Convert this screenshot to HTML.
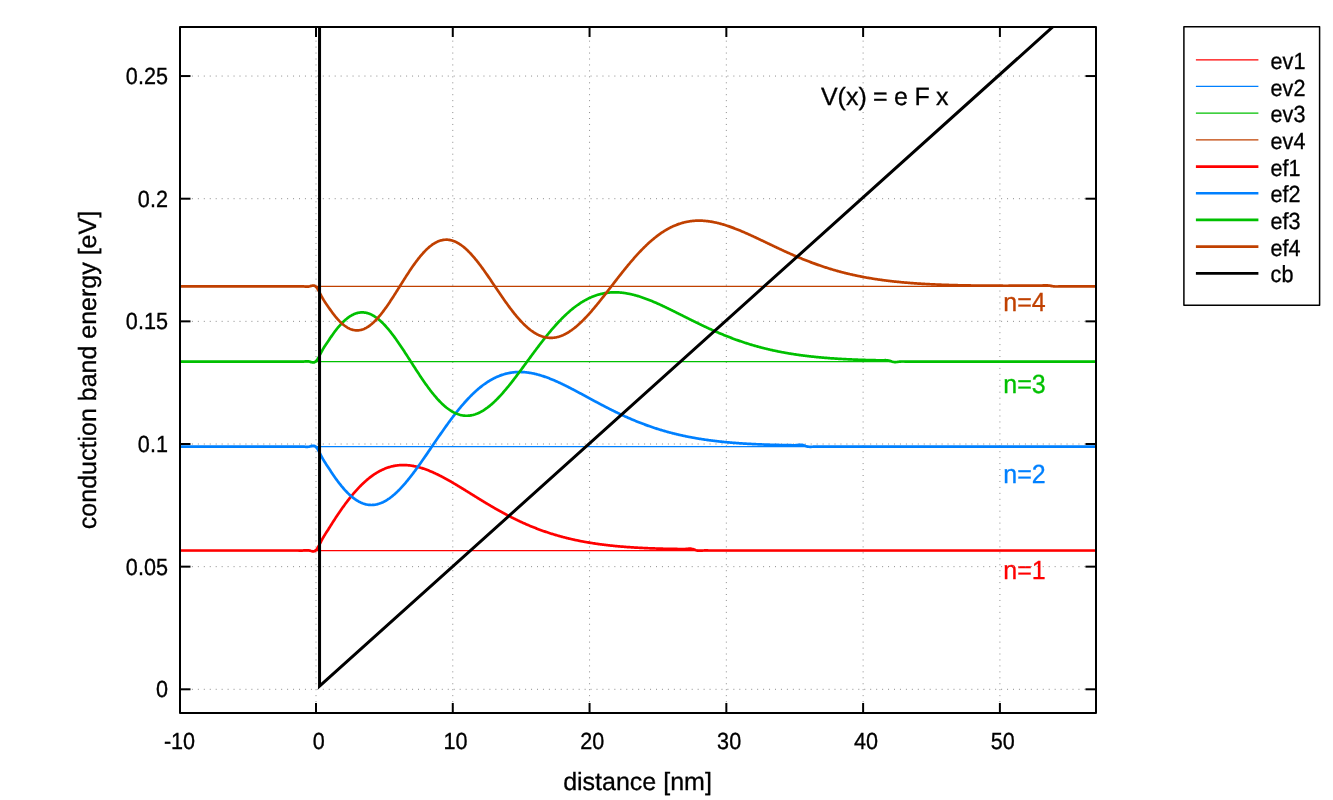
<!DOCTYPE html>
<html><head><meta charset="utf-8"><style>
html,body{margin:0;padding:0;background:#fff;}
svg{display:block;}
text{font-family:"Liberation Sans",sans-serif;text-rendering:geometricPrecision;stroke:currentColor;stroke-width:0.3px;}
svg{will-change:transform;}
</style></head><body>
<svg width="1333" height="800" viewBox="0 0 1333 800">
<defs><clipPath id="pc"><rect x="180" y="27" width="916" height="686"/></clipPath></defs>
<rect width="1333" height="800" fill="#fff"/>
<text transform="translate(1003.35,301.75) scale(1,1.05)" y="8.75" font-size="25.0" text-anchor="start" fill="#c04000" color="#c04000" >n=4</text>
<text transform="translate(1003.35,384.05) scale(1,1.05)" y="8.75" font-size="25.0" text-anchor="start" fill="#00c000" color="#00c000" >n=3</text>
<text transform="translate(1003.35,473.55) scale(1,1.05)" y="8.75" font-size="25.0" text-anchor="start" fill="#0080ff" color="#0080ff" >n=2</text>
<text transform="translate(1003.35,569.35) scale(1,1.05)" y="8.75" font-size="25.0" text-anchor="start" fill="#ff0000" color="#ff0000" >n=1</text>
<g stroke="#8c8c8c" stroke-width="1" stroke-dasharray="1 4.95" fill="none"><line x1="316.00" y1="714" x2="316.00" y2="27"/><line x1="452.78" y1="714" x2="452.78" y2="27"/><line x1="589.56" y1="714" x2="589.56" y2="27"/><line x1="726.34" y1="714" x2="726.34" y2="27"/><line x1="863.12" y1="714" x2="863.12" y2="27"/><line x1="999.90" y1="714" x2="999.90" y2="27"/><line x1="180" y1="689.30" x2="1096" y2="689.30"/><line x1="180" y1="566.65" x2="1096" y2="566.65"/><line x1="180" y1="444.00" x2="1096" y2="444.00"/><line x1="180" y1="321.35" x2="1096" y2="321.35"/><line x1="180" y1="198.70" x2="1096" y2="198.70"/><line x1="180" y1="76.05" x2="1096" y2="76.05"/></g>
<g stroke="#000" stroke-width="2" fill="none"><line x1="316.00" y1="713" x2="316.00" y2="703"/><line x1="316.00" y1="27" x2="316.00" y2="37"/><line x1="452.78" y1="713" x2="452.78" y2="703"/><line x1="452.78" y1="27" x2="452.78" y2="37"/><line x1="589.56" y1="713" x2="589.56" y2="703"/><line x1="589.56" y1="27" x2="589.56" y2="37"/><line x1="726.34" y1="713" x2="726.34" y2="703"/><line x1="726.34" y1="27" x2="726.34" y2="37"/><line x1="863.12" y1="713" x2="863.12" y2="703"/><line x1="863.12" y1="27" x2="863.12" y2="37"/><line x1="999.90" y1="713" x2="999.90" y2="703"/><line x1="999.90" y1="27" x2="999.90" y2="37"/><line x1="180" y1="689.30" x2="190.5" y2="689.30"/><line x1="1096" y1="689.30" x2="1085.5" y2="689.30"/><line x1="180" y1="566.65" x2="190.5" y2="566.65"/><line x1="1096" y1="566.65" x2="1085.5" y2="566.65"/><line x1="180" y1="444.00" x2="190.5" y2="444.00"/><line x1="1096" y1="444.00" x2="1085.5" y2="444.00"/><line x1="180" y1="321.35" x2="190.5" y2="321.35"/><line x1="1096" y1="321.35" x2="1085.5" y2="321.35"/><line x1="180" y1="198.70" x2="190.5" y2="198.70"/><line x1="1096" y1="198.70" x2="1085.5" y2="198.70"/><line x1="180" y1="76.05" x2="190.5" y2="76.05"/><line x1="1096" y1="76.05" x2="1085.5" y2="76.05"/></g>
<text transform="translate(167.90,689.04) scale(1,1.08)" y="7.56" font-size="21.6" text-anchor="end" fill="#000" color="#000" >0</text><text transform="translate(167.90,566.39) scale(1,1.08)" y="7.56" font-size="21.6" text-anchor="end" fill="#000" color="#000" >0.05</text><text transform="translate(167.90,443.74) scale(1,1.08)" y="7.56" font-size="21.6" text-anchor="end" fill="#000" color="#000" >0.1</text><text transform="translate(167.90,321.09) scale(1,1.08)" y="7.56" font-size="21.6" text-anchor="end" fill="#000" color="#000" >0.15</text><text transform="translate(167.90,198.44) scale(1,1.08)" y="7.56" font-size="21.6" text-anchor="end" fill="#000" color="#000" >0.2</text><text transform="translate(167.90,75.79) scale(1,1.08)" y="7.56" font-size="21.6" text-anchor="end" fill="#000" color="#000" >0.25</text><text transform="translate(179.52,740.34) scale(1,1.08)" y="7.56" font-size="21.6" text-anchor="middle" fill="#000" color="#000" >-10</text><text transform="translate(318.80,740.34) scale(1,1.08)" y="7.56" font-size="21.6" text-anchor="middle" fill="#000" color="#000" >0</text><text transform="translate(455.58,740.34) scale(1,1.08)" y="7.56" font-size="21.6" text-anchor="middle" fill="#000" color="#000" >10</text><text transform="translate(592.36,740.34) scale(1,1.08)" y="7.56" font-size="21.6" text-anchor="middle" fill="#000" color="#000" >20</text><text transform="translate(729.14,740.34) scale(1,1.08)" y="7.56" font-size="21.6" text-anchor="middle" fill="#000" color="#000" >30</text><text transform="translate(865.92,740.34) scale(1,1.08)" y="7.56" font-size="21.6" text-anchor="middle" fill="#000" color="#000" >40</text><text transform="translate(1002.70,740.34) scale(1,1.08)" y="7.56" font-size="21.6" text-anchor="middle" fill="#000" color="#000" >50</text>
<line x1="180" y1="550.50" x2="1096" y2="550.50" stroke="#ff0000" stroke-width="1.25"/><line x1="180" y1="446.62" x2="1096" y2="446.62" stroke="#0080ff" stroke-width="1.25"/><line x1="180" y1="361.58" x2="1096" y2="361.58" stroke="#00c000" stroke-width="1.25"/><line x1="180" y1="286.41" x2="1096" y2="286.41" stroke="#c04000" stroke-width="1.25"/>
<g clip-path="url(#pc)"><path d="M179.22,550.50L179.90,550.50L180.59,550.50L181.27,550.50L181.96,550.50L182.64,550.50L183.32,550.50L184.01,550.50L184.69,550.50L185.38,550.50L186.06,550.50L186.74,550.50L187.43,550.50L188.11,550.50L188.79,550.50L189.48,550.50L190.16,550.50L190.85,550.50L191.53,550.50L192.21,550.50L192.90,550.50L193.58,550.50L194.27,550.50L194.95,550.50L195.63,550.50L196.32,550.50L197.00,550.50L197.69,550.50L198.37,550.50L199.05,550.50L199.74,550.50L200.42,550.50L201.10,550.50L201.79,550.50L202.47,550.50L203.16,550.50L203.84,550.50L204.52,550.50L205.21,550.50L205.89,550.50L206.58,550.50L207.26,550.50L207.94,550.50L208.63,550.50L209.31,550.50L210.00,550.50L210.68,550.50L211.36,550.50L212.05,550.50L212.73,550.50L213.42,550.50L214.10,550.50L214.78,550.50L215.47,550.50L216.15,550.50L216.83,550.50L217.52,550.50L218.20,550.50L218.89,550.50L219.57,550.50L220.25,550.50L220.94,550.50L221.62,550.50L222.31,550.50L222.99,550.50L223.67,550.50L224.36,550.50L225.04,550.50L225.73,550.50L226.41,550.50L227.09,550.50L227.78,550.50L228.46,550.50L229.14,550.50L229.83,550.50L230.51,550.50L231.20,550.50L231.88,550.50L232.56,550.50L233.25,550.50L233.93,550.50L234.62,550.50L235.30,550.50L235.98,550.50L236.67,550.50L237.35,550.50L238.04,550.50L238.72,550.50L239.40,550.50L240.09,550.50L240.77,550.50L241.45,550.50L242.14,550.50L242.82,550.50L243.51,550.50L244.19,550.50L244.87,550.50L245.56,550.50L246.24,550.50L246.93,550.50L247.61,550.50L248.29,550.50L248.98,550.50L249.66,550.50L250.35,550.50L251.03,550.50L251.71,550.50L252.40,550.50L253.08,550.50L253.77,550.50L254.45,550.50L255.13,550.50L255.82,550.50L256.50,550.50L257.18,550.50L257.87,550.50L258.55,550.50L259.24,550.50L259.92,550.50L260.60,550.50L261.29,550.50L261.97,550.50L262.66,550.50L263.34,550.50L264.02,550.50L264.71,550.50L265.39,550.50L266.08,550.50L266.76,550.50L267.44,550.50L268.13,550.50L268.81,550.50L269.49,550.50L270.18,550.50L270.86,550.50L271.55,550.50L272.23,550.50L272.91,550.50L273.60,550.50L274.28,550.50L274.97,550.50L275.65,550.50L276.33,550.50L277.02,550.50L277.70,550.50L278.39,550.50L279.07,550.50L279.75,550.50L280.44,550.50L281.12,550.50L281.81,550.50L282.49,550.50L283.17,550.50L283.86,550.50L284.54,550.50L285.22,550.50L285.91,550.50L286.59,550.50L287.28,550.50L287.96,550.50L288.64,550.50L289.33,550.50L290.01,550.50L290.70,550.50L291.38,550.50L292.06,550.49L292.75,550.49L293.43,550.49L294.12,550.48L294.80,550.48L295.48,550.48L296.17,550.49L296.85,550.50L297.53,550.51L298.22,550.52L298.90,550.54L299.59,550.55L300.27,550.56L300.95,550.56L301.64,550.56L302.32,550.54L303.01,550.52L303.69,550.47L304.37,550.42L305.06,550.36L305.74,550.31L306.43,550.28L307.11,550.26L307.79,550.28L308.48,550.34L309.16,550.44L309.84,550.60L310.53,550.80L311.21,551.01L311.90,551.20L312.58,551.33L313.26,551.38L313.95,551.31L314.63,551.10L315.32,550.71L316.00,550.12L316.68,549.32L317.37,548.35L318.05,547.24L318.74,546.02L319.42,544.73L320.10,543.39L320.79,542.03L321.47,540.70L322.16,539.41L322.84,538.18L323.52,537.00L324.21,535.86L324.89,534.75L325.57,533.66L326.26,532.60L326.94,531.54L327.63,530.48L328.31,529.41L328.99,528.33L329.68,527.25L330.36,526.16L331.05,525.07L331.73,523.98L332.41,522.89L333.10,521.80L333.78,520.73L334.47,519.66L335.15,518.61L335.83,517.56L336.52,516.52L337.20,515.50L337.88,514.48L338.57,513.47L339.25,512.47L339.94,511.48L340.62,510.49L341.30,509.51L341.99,508.54L342.67,507.58L343.36,506.62L344.04,505.68L344.72,504.74L345.41,503.81L346.09,502.89L346.78,501.98L347.46,501.08L348.14,500.19L348.83,499.31L349.51,498.44L350.20,497.58L350.88,496.73L351.56,495.89L352.25,495.07L352.93,494.25L353.61,493.44L354.30,492.64L354.98,491.86L355.67,491.08L356.35,490.32L357.03,489.56L357.72,488.82L358.40,488.09L359.09,487.37L359.77,486.66L360.45,485.96L361.14,485.28L361.82,484.60L362.51,483.94L363.19,483.29L363.87,482.65L364.56,482.02L365.24,481.40L365.92,480.80L366.61,480.20L367.29,479.62L367.98,479.05L368.66,478.49L369.34,477.94L370.03,477.41L370.71,476.88L371.40,476.37L372.08,475.87L372.76,475.38L373.45,474.91L374.13,474.44L374.82,473.99L375.50,473.55L376.18,473.12L376.87,472.70L377.55,472.30L378.23,471.90L378.92,471.52L379.60,471.15L380.29,470.79L380.97,470.44L381.65,470.10L382.34,469.78L383.02,469.46L383.71,469.16L384.39,468.87L385.07,468.59L385.76,468.32L386.44,468.06L387.13,467.81L387.81,467.58L388.49,467.35L389.18,467.14L389.86,466.94L390.55,466.74L391.23,466.56L391.91,466.39L392.60,466.23L393.28,466.08L393.96,465.94L394.65,465.81L395.33,465.70L396.02,465.59L396.70,465.49L397.38,465.40L398.07,465.32L398.75,465.26L399.44,465.20L400.12,465.15L400.80,465.11L401.49,465.08L402.17,465.06L402.86,465.05L403.54,465.05L404.22,465.06L404.91,465.07L405.59,465.10L406.27,465.13L406.96,465.18L407.64,465.23L408.33,465.29L409.01,465.36L409.69,465.44L410.38,465.52L411.06,465.62L411.75,465.72L412.43,465.83L413.11,465.95L413.80,466.08L414.48,466.21L415.17,466.35L415.85,466.50L416.53,466.66L417.22,466.82L417.90,466.99L418.59,467.17L419.27,467.35L419.95,467.54L420.64,467.74L421.32,467.95L422.00,468.16L422.69,468.38L423.37,468.60L424.06,468.83L424.74,469.07L425.42,469.31L426.11,469.56L426.79,469.81L427.48,470.07L428.16,470.34L428.84,470.61L429.53,470.89L430.21,471.17L430.90,471.45L431.58,471.75L432.26,472.04L432.95,472.34L433.63,472.65L434.31,472.96L435.00,473.28L435.68,473.60L436.37,473.92L437.05,474.25L437.73,474.58L438.42,474.92L439.10,475.26L439.79,475.60L440.47,475.95L441.15,476.30L441.84,476.66L442.52,477.02L443.21,477.38L443.89,477.74L444.57,478.11L445.26,478.48L445.94,478.86L446.62,479.24L447.31,479.62L447.99,480.00L448.68,480.38L449.36,480.77L450.04,481.16L450.73,481.55L451.41,481.95L452.10,482.35L452.78,482.74L453.46,483.14L454.15,483.55L454.83,483.95L455.52,484.36L456.20,484.77L456.88,485.18L457.57,485.59L458.25,486.00L458.94,486.41L459.62,486.83L460.30,487.24L460.99,487.66L461.67,488.08L462.35,488.50L463.04,488.92L463.72,489.34L464.41,489.76L465.09,490.18L465.77,490.60L466.46,491.03L467.14,491.45L467.83,491.87L468.51,492.30L469.19,492.72L469.88,493.14L470.56,493.57L471.25,493.99L471.93,494.42L472.61,494.84L473.30,495.27L473.98,495.69L474.66,496.12L475.35,496.54L476.03,496.96L476.72,497.38L477.40,497.81L478.08,498.23L478.77,498.65L479.45,499.07L480.14,499.49L480.82,499.91L481.50,500.33L482.19,500.74L482.87,501.16L483.56,501.58L484.24,501.99L484.92,502.41L485.61,502.82L486.29,503.23L486.98,503.64L487.66,504.05L488.34,504.46L489.03,504.86L489.71,505.27L490.39,505.67L491.08,506.07L491.76,506.48L492.45,506.88L493.13,507.27L493.81,507.67L494.50,508.07L495.18,508.46L495.87,508.85L496.55,509.24L497.23,509.63L497.92,510.02L498.60,510.40L499.29,510.78L499.97,511.17L500.65,511.55L501.34,511.92L502.02,512.30L502.70,512.67L503.39,513.05L504.07,513.42L504.76,513.78L505.44,514.15L506.12,514.51L506.81,514.88L507.49,515.24L508.18,515.60L508.86,515.95L509.54,516.31L510.23,516.66L510.91,517.01L511.60,517.36L512.28,517.70L512.96,518.04L513.65,518.39L514.33,518.73L515.01,519.06L515.70,519.40L516.38,519.73L517.07,520.06L517.75,520.39L518.43,520.71L519.12,521.04L519.80,521.36L520.49,521.68L521.17,521.99L521.85,522.31L522.54,522.62L523.22,522.93L523.91,523.24L524.59,523.54L525.27,523.85L525.96,524.15L526.64,524.44L527.33,524.74L528.01,525.03L528.69,525.33L529.38,525.62L530.06,525.90L530.74,526.19L531.43,526.47L532.11,526.75L532.80,527.03L533.48,527.30L534.16,527.57L534.85,527.84L535.53,528.11L536.22,528.38L536.90,528.64L537.58,528.90L538.27,529.16L538.95,529.42L539.64,529.67L540.32,529.93L541.00,530.18L541.69,530.42L542.37,530.67L543.05,530.91L543.74,531.15L544.42,531.39L545.11,531.63L545.79,531.86L546.47,532.10L547.16,532.33L547.84,532.55L548.53,532.78L549.21,533.00L549.89,533.22L550.58,533.44L551.26,533.66L551.95,533.87L552.63,534.09L553.31,534.30L554.00,534.50L554.68,534.71L555.37,534.91L556.05,535.12L556.73,535.32L557.42,535.51L558.10,535.71L558.78,535.90L559.47,536.09L560.15,536.28L560.84,536.47L561.52,536.66L562.20,536.84L562.89,537.02L563.57,537.20L564.26,537.38L564.94,537.55L565.62,537.73L566.31,537.90L566.99,538.07L567.68,538.24L568.36,538.40L569.04,538.57L569.73,538.73L570.41,538.89L571.09,539.05L571.78,539.21L572.46,539.36L573.15,539.51L573.83,539.66L574.51,539.81L575.20,539.96L575.88,540.11L576.57,540.25L577.25,540.40L577.93,540.54L578.62,540.68L579.30,540.81L579.99,540.95L580.67,541.08L581.35,541.22L582.04,541.35L582.72,541.48L583.40,541.60L584.09,541.73L584.77,541.85L585.46,541.98L586.14,542.10L586.82,542.22L587.51,542.34L588.19,542.45L588.88,542.57L589.56,542.68L590.24,542.80L590.93,542.91L591.61,543.02L592.30,543.13L592.98,543.23L593.66,543.34L594.35,543.44L595.03,543.54L595.72,543.64L596.40,543.74L597.08,543.84L597.77,543.94L598.45,544.04L599.13,544.13L599.82,544.22L600.50,544.32L601.19,544.41L601.87,544.50L602.55,544.58L603.24,544.67L603.92,544.76L604.61,544.84L605.29,544.92L605.97,545.01L606.66,545.09L607.34,545.17L608.03,545.25L608.71,545.32L609.39,545.40L610.08,545.48L610.76,545.55L611.44,545.62L612.13,545.69L612.81,545.77L613.50,545.84L614.18,545.90L614.86,545.97L615.55,546.04L616.23,546.10L616.92,546.17L617.60,546.23L618.28,546.30L618.97,546.36L619.65,546.42L620.34,546.48L621.02,546.54L621.70,546.60L622.39,546.65L623.07,546.71L623.76,546.76L624.44,546.82L625.12,546.87L625.81,546.93L626.49,546.98L627.17,547.03L627.86,547.08L628.54,547.13L629.23,547.18L629.91,547.22L630.59,547.27L631.28,547.32L631.96,547.36L632.65,547.41L633.33,547.45L634.01,547.49L634.70,547.54L635.38,547.58L636.07,547.62L636.75,547.66L637.43,547.70L638.12,547.74L638.80,547.77L639.48,547.81L640.17,547.85L640.85,547.88L641.54,547.92L642.22,547.95L642.90,547.99L643.59,548.02L644.27,548.05L644.96,548.09L645.64,548.12L646.32,548.15L647.01,548.18L647.69,548.21L648.38,548.24L649.06,548.26L649.74,548.29L650.43,548.32L651.11,548.35L651.79,548.37L652.48,548.40L653.16,548.42L653.85,548.45L654.53,548.47L655.21,548.49L655.90,548.52L656.58,548.54L657.27,548.56L657.95,548.58L658.63,548.60L659.32,548.62L660.00,548.64L660.69,548.66L661.37,548.68L662.05,548.70L662.74,548.72L663.42,548.73L664.11,548.75L664.79,548.77L665.47,548.78L666.16,548.80L666.84,548.81L667.52,548.83L668.21,548.85L668.89,548.86L669.58,548.88L670.26,548.89L670.94,548.90L671.63,548.91L672.31,548.92L673.00,548.93L673.68,548.93L674.36,548.94L675.05,548.94L675.73,548.95L676.42,548.96L677.10,548.97L677.78,548.98L678.47,549.00L679.15,549.02L679.83,549.05L680.52,549.08L681.20,549.10L681.89,549.12L682.57,549.13L683.25,549.13L683.94,549.12L684.62,549.08L685.31,549.03L685.99,548.95L686.67,548.87L687.36,548.79L688.04,548.72L688.73,548.66L689.41,548.63L690.09,548.64L690.78,548.69L691.46,548.80L692.15,548.96L692.83,549.15L693.51,549.37L694.20,549.60L694.88,549.84L695.56,550.07L696.25,550.27L696.93,550.44L697.62,550.57L698.30,550.65L698.98,550.69L699.67,550.70L700.35,550.68L701.04,550.65L701.72,550.61L702.40,550.56L703.09,550.52L703.77,550.48L704.46,550.46L705.14,550.45L705.82,550.45L706.51,550.45L707.19,550.46L707.87,550.47L708.56,550.48L709.24,550.50L709.93,550.51L710.61,550.51L711.29,550.51L711.98,550.51L712.66,550.51L713.35,550.51L714.03,550.51L714.71,550.50L715.40,550.50L716.08,550.50L716.77,550.50L717.45,550.50L718.13,550.50L718.82,550.50L719.50,550.50L720.18,550.50L720.87,550.50L721.55,550.50L722.24,550.50L722.92,550.50L723.60,550.50L724.29,550.50L724.97,550.50L725.66,550.50L726.34,550.50L727.02,550.50L727.71,550.50L728.39,550.50L729.08,550.50L729.76,550.50L730.44,550.50L731.13,550.50L731.81,550.50L732.50,550.50L733.18,550.50L733.86,550.50L734.55,550.50L735.23,550.50L735.91,550.50L736.60,550.50L737.28,550.50L737.97,550.50L738.65,550.50L739.33,550.50L740.02,550.50L740.70,550.50L741.39,550.50L742.07,550.50L742.75,550.50L743.44,550.50L744.12,550.50L744.81,550.50L745.49,550.50L746.17,550.50L746.86,550.50L747.54,550.50L748.22,550.50L748.91,550.50L749.59,550.50L750.28,550.50L750.96,550.50L751.64,550.50L752.33,550.50L753.01,550.50L753.70,550.50L754.38,550.50L755.06,550.50L755.75,550.50L756.43,550.50L757.12,550.50L757.80,550.50L758.48,550.50L759.17,550.50L759.85,550.50L760.54,550.50L761.22,550.50L761.90,550.50L762.59,550.50L763.27,550.50L763.95,550.50L764.64,550.50L765.32,550.50L766.01,550.50L766.69,550.50L767.37,550.50L768.06,550.50L768.74,550.50L769.43,550.50L770.11,550.50L770.79,550.50L771.48,550.50L772.16,550.50L772.85,550.50L773.53,550.50L774.21,550.50L774.90,550.50L775.58,550.50L776.26,550.50L776.95,550.50L777.63,550.50L778.32,550.50L779.00,550.50L779.68,550.50L780.37,550.50L781.05,550.50L781.74,550.50L782.42,550.50L783.10,550.50L783.79,550.50L784.47,550.50L785.16,550.50L785.84,550.50L786.52,550.50L787.21,550.50L787.89,550.50L788.57,550.50L789.26,550.50L789.94,550.50L790.63,550.50L791.31,550.50L791.99,550.50L792.68,550.50L793.36,550.50L794.05,550.50L794.73,550.50L795.41,550.50L796.10,550.50L796.78,550.50L797.47,550.50L798.15,550.50L798.83,550.50L799.52,550.50L800.20,550.50L800.89,550.50L801.57,550.50L802.25,550.50L802.94,550.50L803.62,550.50L804.30,550.50L804.99,550.50L805.67,550.50L806.36,550.50L807.04,550.50L807.72,550.50L808.41,550.50L809.09,550.50L809.78,550.50L810.46,550.50L811.14,550.50L811.83,550.50L812.51,550.50L813.20,550.50L813.88,550.50L814.56,550.50L815.25,550.50L815.93,550.50L816.61,550.50L817.30,550.50L817.98,550.50L818.67,550.50L819.35,550.50L820.03,550.50L820.72,550.50L821.40,550.50L822.09,550.50L822.77,550.50L823.45,550.50L824.14,550.50L824.82,550.50L825.51,550.50L826.19,550.50L826.87,550.50L827.56,550.50L828.24,550.50L828.93,550.50L829.61,550.50L830.29,550.50L830.98,550.50L831.66,550.50L832.34,550.50L833.03,550.50L833.71,550.50L834.40,550.50L835.08,550.50L835.76,550.50L836.45,550.50L837.13,550.50L837.82,550.50L838.50,550.50L839.18,550.50L839.87,550.50L840.55,550.50L841.24,550.50L841.92,550.50L842.60,550.50L843.29,550.50L843.97,550.50L844.65,550.50L845.34,550.50L846.02,550.50L846.71,550.50L847.39,550.50L848.07,550.50L848.76,550.50L849.44,550.50L850.13,550.50L850.81,550.50L851.49,550.50L852.18,550.50L852.86,550.50L853.55,550.50L854.23,550.50L854.91,550.50L855.60,550.50L856.28,550.50L856.96,550.50L857.65,550.50L858.33,550.50L859.02,550.50L859.70,550.50L860.38,550.50L861.07,550.50L861.75,550.50L862.44,550.50L863.12,550.50L863.80,550.50L864.49,550.50L865.17,550.50L865.86,550.50L866.54,550.50L867.22,550.50L867.91,550.50L868.59,550.50L869.28,550.50L869.96,550.50L870.64,550.50L871.33,550.50L872.01,550.50L872.69,550.50L873.38,550.50L874.06,550.50L874.75,550.50L875.43,550.50L876.11,550.50L876.80,550.50L877.48,550.50L878.17,550.50L878.85,550.50L879.53,550.50L880.22,550.50L880.90,550.50L881.59,550.50L882.27,550.50L882.95,550.50L883.64,550.50L884.32,550.50L885.00,550.50L885.69,550.50L886.37,550.50L887.06,550.50L887.74,550.50L888.42,550.50L889.11,550.50L889.79,550.50L890.48,550.50L891.16,550.50L891.84,550.50L892.53,550.50L893.21,550.50L893.90,550.50L894.58,550.50L895.26,550.50L895.95,550.50L896.63,550.50L897.32,550.50L898.00,550.50L898.68,550.50L899.37,550.50L900.05,550.50L900.73,550.50L901.42,550.50L902.10,550.50L902.79,550.50L903.47,550.50L904.15,550.50L904.84,550.50L905.52,550.50L906.21,550.50L906.89,550.50L907.57,550.50L908.26,550.50L908.94,550.50L909.63,550.50L910.31,550.50L910.99,550.50L911.68,550.50L912.36,550.50L913.04,550.50L913.73,550.50L914.41,550.50L915.10,550.50L915.78,550.50L916.46,550.50L917.15,550.50L917.83,550.50L918.52,550.50L919.20,550.50L919.88,550.50L920.57,550.50L921.25,550.50L921.94,550.50L922.62,550.50L923.30,550.50L923.99,550.50L924.67,550.50L925.35,550.50L926.04,550.50L926.72,550.50L927.41,550.50L928.09,550.50L928.77,550.50L929.46,550.50L930.14,550.50L930.83,550.50L931.51,550.50L932.19,550.50L932.88,550.50L933.56,550.50L934.25,550.50L934.93,550.50L935.61,550.50L936.30,550.50L936.98,550.50L937.67,550.50L938.35,550.50L939.03,550.50L939.72,550.50L940.40,550.50L941.08,550.50L941.77,550.50L942.45,550.50L943.14,550.50L943.82,550.50L944.50,550.50L945.19,550.50L945.87,550.50L946.56,550.50L947.24,550.50L947.92,550.50L948.61,550.50L949.29,550.50L949.98,550.50L950.66,550.50L951.34,550.50L952.03,550.50L952.71,550.50L953.39,550.50L954.08,550.50L954.76,550.50L955.45,550.50L956.13,550.50L956.81,550.50L957.50,550.50L958.18,550.50L958.87,550.50L959.55,550.50L960.23,550.50L960.92,550.50L961.60,550.50L962.29,550.50L962.97,550.50L963.65,550.50L964.34,550.50L965.02,550.50L965.71,550.50L966.39,550.50L967.07,550.50L967.76,550.50L968.44,550.50L969.12,550.50L969.81,550.50L970.49,550.50L971.18,550.50L971.86,550.50L972.54,550.50L973.23,550.50L973.91,550.50L974.60,550.50L975.28,550.50L975.96,550.50L976.65,550.50L977.33,550.50L978.02,550.50L978.70,550.50L979.38,550.50L980.07,550.50L980.75,550.50L981.43,550.50L982.12,550.50L982.80,550.50L983.49,550.50L984.17,550.50L984.85,550.50L985.54,550.50L986.22,550.50L986.91,550.50L987.59,550.50L988.27,550.50L988.96,550.50L989.64,550.50L990.33,550.50L991.01,550.50L991.69,550.50L992.38,550.50L993.06,550.50L993.74,550.50L994.43,550.50L995.11,550.50L995.80,550.50L996.48,550.50L997.16,550.50L997.85,550.50L998.53,550.50L999.22,550.50L999.90,550.50L1000.58,550.50L1001.27,550.50L1001.95,550.50L1002.64,550.50L1003.32,550.50L1004.00,550.50L1004.69,550.50L1005.37,550.50L1006.06,550.50L1006.74,550.50L1007.42,550.50L1008.11,550.50L1008.79,550.50L1009.47,550.50L1010.16,550.50L1010.84,550.50L1011.53,550.50L1012.21,550.50L1012.89,550.50L1013.58,550.50L1014.26,550.50L1014.95,550.50L1015.63,550.50L1016.31,550.50L1017.00,550.50L1017.68,550.50L1018.37,550.50L1019.05,550.50L1019.73,550.50L1020.42,550.50L1021.10,550.50L1021.78,550.50L1022.47,550.50L1023.15,550.50L1023.84,550.50L1024.52,550.50L1025.20,550.50L1025.89,550.50L1026.57,550.50L1027.26,550.50L1027.94,550.50L1028.62,550.50L1029.31,550.50L1029.99,550.50L1030.68,550.50L1031.36,550.50L1032.04,550.50L1032.73,550.50L1033.41,550.50L1034.10,550.50L1034.78,550.50L1035.46,550.50L1036.15,550.50L1036.83,550.50L1037.51,550.50L1038.20,550.50L1038.88,550.50L1039.57,550.50L1040.25,550.50L1040.93,550.50L1041.62,550.50L1042.30,550.50L1042.99,550.50L1043.67,550.50L1044.35,550.50L1045.04,550.50L1045.72,550.50L1046.41,550.50L1047.09,550.50L1047.77,550.50L1048.46,550.50L1049.14,550.50L1049.82,550.50L1050.51,550.50L1051.19,550.50L1051.88,550.50L1052.56,550.50L1053.24,550.50L1053.93,550.50L1054.61,550.50L1055.30,550.50L1055.98,550.50L1056.66,550.50L1057.35,550.50L1058.03,550.50L1058.72,550.50L1059.40,550.50L1060.08,550.50L1060.77,550.50L1061.45,550.50L1062.13,550.50L1062.82,550.50L1063.50,550.50L1064.19,550.50L1064.87,550.50L1065.55,550.50L1066.24,550.50L1066.92,550.50L1067.61,550.50L1068.29,550.50L1068.97,550.50L1069.66,550.50L1070.34,550.50L1071.03,550.50L1071.71,550.50L1072.39,550.50L1073.08,550.50L1073.76,550.50L1074.45,550.50L1075.13,550.50L1075.81,550.50L1076.50,550.50L1077.18,550.50L1077.86,550.50L1078.55,550.50L1079.23,550.50L1079.92,550.50L1080.60,550.50L1081.28,550.50L1081.97,550.50L1082.65,550.50L1083.34,550.50L1084.02,550.50L1084.70,550.50L1085.39,550.50L1086.07,550.50L1086.76,550.50L1087.44,550.50L1088.12,550.50L1088.81,550.50L1089.49,550.50L1090.17,550.50L1090.86,550.50L1091.54,550.50L1092.23,550.50L1092.91,550.50L1093.59,550.50L1094.28,550.50L1094.96,550.50L1095.65,550.50" stroke="#ff0000" stroke-width="2.7" fill="none" stroke-linejoin="round"/><path d="M179.22,446.62L179.90,446.62L180.59,446.62L181.27,446.62L181.96,446.62L182.64,446.62L183.32,446.62L184.01,446.62L184.69,446.62L185.38,446.62L186.06,446.62L186.74,446.62L187.43,446.62L188.11,446.62L188.79,446.62L189.48,446.62L190.16,446.62L190.85,446.62L191.53,446.62L192.21,446.62L192.90,446.62L193.58,446.62L194.27,446.62L194.95,446.62L195.63,446.62L196.32,446.62L197.00,446.62L197.69,446.62L198.37,446.62L199.05,446.62L199.74,446.62L200.42,446.62L201.10,446.62L201.79,446.62L202.47,446.62L203.16,446.62L203.84,446.62L204.52,446.62L205.21,446.62L205.89,446.62L206.58,446.62L207.26,446.62L207.94,446.62L208.63,446.62L209.31,446.62L210.00,446.62L210.68,446.62L211.36,446.62L212.05,446.62L212.73,446.62L213.42,446.62L214.10,446.62L214.78,446.62L215.47,446.62L216.15,446.62L216.83,446.62L217.52,446.62L218.20,446.62L218.89,446.62L219.57,446.62L220.25,446.62L220.94,446.62L221.62,446.62L222.31,446.62L222.99,446.62L223.67,446.62L224.36,446.62L225.04,446.62L225.73,446.62L226.41,446.62L227.09,446.62L227.78,446.62L228.46,446.62L229.14,446.62L229.83,446.62L230.51,446.62L231.20,446.62L231.88,446.62L232.56,446.62L233.25,446.62L233.93,446.62L234.62,446.62L235.30,446.62L235.98,446.62L236.67,446.62L237.35,446.62L238.04,446.62L238.72,446.62L239.40,446.62L240.09,446.62L240.77,446.62L241.45,446.62L242.14,446.62L242.82,446.62L243.51,446.62L244.19,446.62L244.87,446.62L245.56,446.62L246.24,446.62L246.93,446.62L247.61,446.62L248.29,446.62L248.98,446.62L249.66,446.62L250.35,446.62L251.03,446.62L251.71,446.62L252.40,446.62L253.08,446.62L253.77,446.62L254.45,446.62L255.13,446.62L255.82,446.62L256.50,446.62L257.18,446.62L257.87,446.62L258.55,446.62L259.24,446.62L259.92,446.62L260.60,446.62L261.29,446.62L261.97,446.62L262.66,446.62L263.34,446.62L264.02,446.62L264.71,446.62L265.39,446.62L266.08,446.62L266.76,446.62L267.44,446.62L268.13,446.62L268.81,446.62L269.49,446.62L270.18,446.62L270.86,446.62L271.55,446.62L272.23,446.62L272.91,446.62L273.60,446.62L274.28,446.62L274.97,446.62L275.65,446.62L276.33,446.62L277.02,446.62L277.70,446.62L278.39,446.62L279.07,446.62L279.75,446.62L280.44,446.62L281.12,446.62L281.81,446.62L282.49,446.62L283.17,446.62L283.86,446.62L284.54,446.62L285.22,446.62L285.91,446.62L286.59,446.62L287.28,446.62L287.96,446.62L288.64,446.62L289.33,446.62L290.01,446.62L290.70,446.62L291.38,446.62L292.06,446.63L292.75,446.63L293.43,446.64L294.12,446.64L294.80,446.64L295.48,446.64L296.17,446.63L296.85,446.63L297.53,446.61L298.22,446.60L298.90,446.59L299.59,446.57L300.27,446.56L300.95,446.56L301.64,446.56L302.32,446.58L303.01,446.61L303.69,446.65L304.37,446.70L305.06,446.76L305.74,446.81L306.43,446.84L307.11,446.86L307.79,446.84L308.48,446.78L309.16,446.68L309.84,446.52L310.53,446.32L311.21,446.11L311.90,445.93L312.58,445.79L313.26,445.74L313.95,445.81L314.63,446.02L315.32,446.41L316.00,447.01L316.68,447.80L317.37,448.77L318.05,449.88L318.74,451.10L319.42,452.39L320.10,453.72L320.79,455.07L321.47,456.40L322.16,457.68L322.84,458.90L323.52,460.07L324.21,461.19L324.89,462.29L325.57,463.35L326.26,464.39L326.94,465.43L327.63,466.45L328.31,467.49L328.99,468.53L329.68,469.57L330.36,470.61L331.05,471.65L331.73,472.69L332.41,473.72L333.10,474.73L333.78,475.74L334.47,476.73L335.15,477.71L335.83,478.67L336.52,479.61L337.20,480.54L337.88,481.45L338.57,482.35L339.25,483.24L339.94,484.11L340.62,484.96L341.30,485.81L341.99,486.63L342.67,487.45L343.36,488.25L344.04,489.03L344.72,489.79L345.41,490.54L346.09,491.27L346.78,491.99L347.46,492.69L348.14,493.37L348.83,494.03L349.51,494.67L350.20,495.30L350.88,495.90L351.56,496.49L352.25,497.06L352.93,497.61L353.61,498.14L354.30,498.65L354.98,499.15L355.67,499.62L356.35,500.07L357.03,500.51L357.72,500.92L358.40,501.32L359.09,501.69L359.77,502.05L360.45,502.38L361.14,502.70L361.82,502.99L362.51,503.27L363.19,503.52L363.87,503.75L364.56,503.97L365.24,504.16L365.92,504.33L366.61,504.48L367.29,504.62L367.98,504.73L368.66,504.82L369.34,504.89L370.03,504.94L370.71,504.97L371.40,504.98L372.08,504.97L372.76,504.94L373.45,504.89L374.13,504.82L374.82,504.74L375.50,504.63L376.18,504.50L376.87,504.35L377.55,504.18L378.23,504.00L378.92,503.79L379.60,503.57L380.29,503.32L380.97,503.06L381.65,502.78L382.34,502.48L383.02,502.17L383.71,501.83L384.39,501.48L385.07,501.11L385.76,500.72L386.44,500.31L387.13,499.89L387.81,499.45L388.49,498.99L389.18,498.52L389.86,498.03L390.55,497.52L391.23,497.00L391.91,496.46L392.60,495.91L393.28,495.34L393.96,494.76L394.65,494.16L395.33,493.55L396.02,492.92L396.70,492.28L397.38,491.63L398.07,490.96L398.75,490.28L399.44,489.58L400.12,488.87L400.80,488.15L401.49,487.42L402.17,486.67L402.86,485.92L403.54,485.15L404.22,484.37L404.91,483.58L405.59,482.78L406.27,481.97L406.96,481.14L407.64,480.31L408.33,479.47L409.01,478.62L409.69,477.76L410.38,476.89L411.06,476.01L411.75,475.13L412.43,474.23L413.11,473.33L413.80,472.43L414.48,471.51L415.17,470.59L415.85,469.66L416.53,468.72L417.22,467.78L417.90,466.83L418.59,465.88L419.27,464.92L419.95,463.96L420.64,462.99L421.32,462.02L422.00,461.05L422.69,460.07L423.37,459.08L424.06,458.10L424.74,457.11L425.42,456.12L426.11,455.12L426.79,454.12L427.48,453.13L428.16,452.13L428.84,451.12L429.53,450.12L430.21,449.12L430.90,448.11L431.58,447.11L432.26,446.10L432.95,445.10L433.63,444.09L434.31,443.09L435.00,442.09L435.68,441.09L436.37,440.09L437.05,439.09L437.73,438.09L438.42,437.10L439.10,436.10L439.79,435.11L440.47,434.12L441.15,433.14L441.84,432.16L442.52,431.18L443.21,430.21L443.89,429.24L444.57,428.27L445.26,427.31L445.94,426.35L446.62,425.39L447.31,424.44L447.99,423.50L448.68,422.56L449.36,421.63L450.04,420.70L450.73,419.78L451.41,418.86L452.10,417.95L452.78,417.05L453.46,416.15L454.15,415.26L454.83,414.37L455.52,413.49L456.20,412.62L456.88,411.76L457.57,410.90L458.25,410.05L458.94,409.21L459.62,408.38L460.30,407.55L460.99,406.73L461.67,405.92L462.35,405.12L463.04,404.32L463.72,403.54L464.41,402.76L465.09,401.99L465.77,401.23L466.46,400.48L467.14,399.74L467.83,399.00L468.51,398.28L469.19,397.57L469.88,396.86L470.56,396.16L471.25,395.48L471.93,394.80L472.61,394.13L473.30,393.47L473.98,392.82L474.66,392.18L475.35,391.55L476.03,390.93L476.72,390.32L477.40,389.72L478.08,389.13L478.77,388.55L479.45,387.98L480.14,387.42L480.82,386.87L481.50,386.33L482.19,385.80L482.87,385.28L483.56,384.78L484.24,384.28L484.92,383.79L485.61,383.31L486.29,382.84L486.98,382.38L487.66,381.94L488.34,381.50L489.03,381.07L489.71,380.65L490.39,380.25L491.08,379.85L491.76,379.46L492.45,379.09L493.13,378.72L493.81,378.37L494.50,378.02L495.18,377.69L495.87,377.36L496.55,377.05L497.23,376.74L497.92,376.45L498.60,376.16L499.29,375.89L499.97,375.62L500.65,375.37L501.34,375.12L502.02,374.89L502.70,374.66L503.39,374.44L504.07,374.24L504.76,374.04L505.44,373.85L506.12,373.67L506.81,373.51L507.49,373.35L508.18,373.20L508.86,373.06L509.54,372.93L510.23,372.80L510.91,372.69L511.60,372.59L512.28,372.49L512.96,372.40L513.65,372.33L514.33,372.26L515.01,372.20L515.70,372.15L516.38,372.10L517.07,372.07L517.75,372.04L518.43,372.02L519.12,372.01L519.80,372.01L520.49,372.02L521.17,372.03L521.85,372.05L522.54,372.08L523.22,372.12L523.91,372.17L524.59,372.22L525.27,372.28L525.96,372.35L526.64,372.42L527.33,372.50L528.01,372.59L528.69,372.69L529.38,372.79L530.06,372.90L530.74,373.02L531.43,373.14L532.11,373.27L532.80,373.40L533.48,373.55L534.16,373.69L534.85,373.85L535.53,374.01L536.22,374.18L536.90,374.35L537.58,374.53L538.27,374.71L538.95,374.90L539.64,375.10L540.32,375.30L541.00,375.50L541.69,375.72L542.37,375.93L543.05,376.15L543.74,376.38L544.42,376.61L545.11,376.85L545.79,377.09L546.47,377.33L547.16,377.58L547.84,377.84L548.53,378.10L549.21,378.36L549.89,378.63L550.58,378.90L551.26,379.17L551.95,379.45L552.63,379.73L553.31,380.02L554.00,380.31L554.68,380.60L555.37,380.90L556.05,381.20L556.73,381.51L557.42,381.81L558.10,382.12L558.78,382.43L559.47,382.75L560.15,383.07L560.84,383.39L561.52,383.71L562.20,384.04L562.89,384.37L563.57,384.70L564.26,385.04L564.94,385.37L565.62,385.71L566.31,386.05L566.99,386.39L567.68,386.74L568.36,387.08L569.04,387.43L569.73,387.78L570.41,388.13L571.09,388.49L571.78,388.84L572.46,389.20L573.15,389.55L573.83,389.91L574.51,390.27L575.20,390.63L575.88,390.99L576.57,391.36L577.25,391.72L577.93,392.09L578.62,392.45L579.30,392.82L579.99,393.19L580.67,393.55L581.35,393.92L582.04,394.29L582.72,394.66L583.40,395.03L584.09,395.40L584.77,395.77L585.46,396.14L586.14,396.51L586.82,396.88L587.51,397.25L588.19,397.62L588.88,397.99L589.56,398.36L590.24,398.73L590.93,399.10L591.61,399.47L592.30,399.84L592.98,400.21L593.66,400.58L594.35,400.95L595.03,401.32L595.72,401.68L596.40,402.05L597.08,402.42L597.77,402.78L598.45,403.15L599.13,403.51L599.82,403.87L600.50,404.23L601.19,404.60L601.87,404.96L602.55,405.31L603.24,405.67L603.92,406.03L604.61,406.39L605.29,406.74L605.97,407.10L606.66,407.45L607.34,407.80L608.03,408.15L608.71,408.50L609.39,408.85L610.08,409.19L610.76,409.54L611.44,409.88L612.13,410.22L612.81,410.56L613.50,410.90L614.18,411.24L614.86,411.58L615.55,411.91L616.23,412.25L616.92,412.58L617.60,412.91L618.28,413.24L618.97,413.56L619.65,413.89L620.34,414.21L621.02,414.53L621.70,414.85L622.39,415.17L623.07,415.49L623.76,415.80L624.44,416.11L625.12,416.43L625.81,416.73L626.49,417.04L627.17,417.35L627.86,417.65L628.54,417.95L629.23,418.25L629.91,418.55L630.59,418.85L631.28,419.14L631.96,419.43L632.65,419.72L633.33,420.01L634.01,420.30L634.70,420.58L635.38,420.87L636.07,421.15L636.75,421.43L637.43,421.70L638.12,421.98L638.80,422.25L639.48,422.52L640.17,422.79L640.85,423.06L641.54,423.32L642.22,423.58L642.90,423.84L643.59,424.10L644.27,424.36L644.96,424.61L645.64,424.87L646.32,425.12L647.01,425.36L647.69,425.61L648.38,425.85L649.06,426.10L649.74,426.34L650.43,426.58L651.11,426.81L651.79,427.05L652.48,427.28L653.16,427.51L653.85,427.74L654.53,427.96L655.21,428.19L655.90,428.41L656.58,428.63L657.27,428.85L657.95,429.07L658.63,429.28L659.32,429.49L660.00,429.70L660.69,429.91L661.37,430.12L662.05,430.32L662.74,430.52L663.42,430.73L664.11,430.92L664.79,431.12L665.47,431.32L666.16,431.51L666.84,431.70L667.52,431.89L668.21,432.08L668.89,432.26L669.58,432.45L670.26,432.63L670.94,432.81L671.63,432.98L672.31,433.16L673.00,433.34L673.68,433.51L674.36,433.68L675.05,433.85L675.73,434.02L676.42,434.18L677.10,434.34L677.78,434.51L678.47,434.67L679.15,434.82L679.83,434.98L680.52,435.14L681.20,435.29L681.89,435.44L682.57,435.59L683.25,435.74L683.94,435.89L684.62,436.03L685.31,436.17L685.99,436.32L686.67,436.46L687.36,436.59L688.04,436.73L688.73,436.87L689.41,437.00L690.09,437.13L690.78,437.26L691.46,437.39L692.15,437.52L692.83,437.64L693.51,437.77L694.20,437.89L694.88,438.01L695.56,438.13L696.25,438.25L696.93,438.37L697.62,438.48L698.30,438.60L698.98,438.71L699.67,438.82L700.35,438.93L701.04,439.04L701.72,439.15L702.40,439.25L703.09,439.36L703.77,439.46L704.46,439.56L705.14,439.67L705.82,439.76L706.51,439.86L707.19,439.96L707.87,440.05L708.56,440.15L709.24,440.24L709.93,440.33L710.61,440.42L711.29,440.51L711.98,440.60L712.66,440.69L713.35,440.77L714.03,440.86L714.71,440.94L715.40,441.02L716.08,441.11L716.77,441.19L717.45,441.26L718.13,441.34L718.82,441.42L719.50,441.49L720.18,441.57L720.87,441.64L721.55,441.71L722.24,441.79L722.92,441.86L723.60,441.93L724.29,441.99L724.97,442.06L725.66,442.13L726.34,442.19L727.02,442.26L727.71,442.32L728.39,442.38L729.08,442.45L729.76,442.51L730.44,442.57L731.13,442.62L731.81,442.68L732.50,442.74L733.18,442.80L733.86,442.85L734.55,442.90L735.23,442.96L735.91,443.01L736.60,443.06L737.28,443.11L737.97,443.16L738.65,443.21L739.33,443.26L740.02,443.31L740.70,443.36L741.39,443.40L742.07,443.45L742.75,443.49L743.44,443.54L744.12,443.58L744.81,443.62L745.49,443.67L746.17,443.71L746.86,443.75L747.54,443.79L748.22,443.83L748.91,443.86L749.59,443.90L750.28,443.94L750.96,443.97L751.64,444.01L752.33,444.05L753.01,444.08L753.70,444.11L754.38,444.15L755.06,444.18L755.75,444.21L756.43,444.24L757.12,444.27L757.80,444.30L758.48,444.33L759.17,444.36L759.85,444.39L760.54,444.42L761.22,444.44L761.90,444.47L762.59,444.50L763.27,444.52L763.95,444.55L764.64,444.57L765.32,444.60L766.01,444.62L766.69,444.64L767.37,444.66L768.06,444.69L768.74,444.71L769.43,444.73L770.11,444.75L770.79,444.77L771.48,444.79L772.16,444.81L772.85,444.82L773.53,444.84L774.21,444.86L774.90,444.88L775.58,444.89L776.26,444.91L776.95,444.92L777.63,444.94L778.32,444.96L779.00,444.97L779.68,444.99L780.37,445.00L781.05,445.02L781.74,445.03L782.42,445.04L783.10,445.05L783.79,445.06L784.47,445.06L785.16,445.07L785.84,445.07L786.52,445.08L787.21,445.09L787.89,445.10L788.57,445.11L789.26,445.13L789.94,445.15L790.63,445.18L791.31,445.21L791.99,445.24L792.68,445.26L793.36,445.27L794.05,445.27L794.73,445.25L795.41,445.22L796.10,445.16L796.78,445.09L797.47,445.01L798.15,444.92L798.83,444.85L799.52,444.80L800.20,444.77L800.89,444.78L801.57,444.83L802.25,444.93L802.94,445.09L803.62,445.28L804.30,445.50L804.99,445.73L805.67,445.97L806.36,446.19L807.04,446.40L807.72,446.57L808.41,446.69L809.09,446.77L809.78,446.81L810.46,446.82L811.14,446.81L811.83,446.77L812.51,446.73L813.20,446.68L813.88,446.64L814.56,446.60L815.25,446.58L815.93,446.57L816.61,446.57L817.30,446.57L817.98,446.58L818.67,446.59L819.35,446.61L820.03,446.62L820.72,446.63L821.40,446.63L822.09,446.64L822.77,446.64L823.45,446.64L824.14,446.63L824.82,446.63L825.51,446.63L826.19,446.62L826.87,446.62L827.56,446.62L828.24,446.62L828.93,446.62L829.61,446.62L830.29,446.62L830.98,446.62L831.66,446.62L832.34,446.62L833.03,446.62L833.71,446.62L834.40,446.62L835.08,446.62L835.76,446.62L836.45,446.62L837.13,446.62L837.82,446.62L838.50,446.62L839.18,446.62L839.87,446.62L840.55,446.62L841.24,446.62L841.92,446.62L842.60,446.62L843.29,446.62L843.97,446.62L844.65,446.62L845.34,446.62L846.02,446.62L846.71,446.62L847.39,446.62L848.07,446.62L848.76,446.62L849.44,446.62L850.13,446.62L850.81,446.62L851.49,446.62L852.18,446.62L852.86,446.62L853.55,446.62L854.23,446.62L854.91,446.62L855.60,446.62L856.28,446.62L856.96,446.62L857.65,446.62L858.33,446.62L859.02,446.62L859.70,446.62L860.38,446.62L861.07,446.62L861.75,446.62L862.44,446.62L863.12,446.62L863.80,446.62L864.49,446.62L865.17,446.62L865.86,446.62L866.54,446.62L867.22,446.62L867.91,446.62L868.59,446.62L869.28,446.62L869.96,446.62L870.64,446.62L871.33,446.62L872.01,446.62L872.69,446.62L873.38,446.62L874.06,446.62L874.75,446.62L875.43,446.62L876.11,446.62L876.80,446.62L877.48,446.62L878.17,446.62L878.85,446.62L879.53,446.62L880.22,446.62L880.90,446.62L881.59,446.62L882.27,446.62L882.95,446.62L883.64,446.62L884.32,446.62L885.00,446.62L885.69,446.62L886.37,446.62L887.06,446.62L887.74,446.62L888.42,446.62L889.11,446.62L889.79,446.62L890.48,446.62L891.16,446.62L891.84,446.62L892.53,446.62L893.21,446.62L893.90,446.62L894.58,446.62L895.26,446.62L895.95,446.62L896.63,446.62L897.32,446.62L898.00,446.62L898.68,446.62L899.37,446.62L900.05,446.62L900.73,446.62L901.42,446.62L902.10,446.62L902.79,446.62L903.47,446.62L904.15,446.62L904.84,446.62L905.52,446.62L906.21,446.62L906.89,446.62L907.57,446.62L908.26,446.62L908.94,446.62L909.63,446.62L910.31,446.62L910.99,446.62L911.68,446.62L912.36,446.62L913.04,446.62L913.73,446.62L914.41,446.62L915.10,446.62L915.78,446.62L916.46,446.62L917.15,446.62L917.83,446.62L918.52,446.62L919.20,446.62L919.88,446.62L920.57,446.62L921.25,446.62L921.94,446.62L922.62,446.62L923.30,446.62L923.99,446.62L924.67,446.62L925.35,446.62L926.04,446.62L926.72,446.62L927.41,446.62L928.09,446.62L928.77,446.62L929.46,446.62L930.14,446.62L930.83,446.62L931.51,446.62L932.19,446.62L932.88,446.62L933.56,446.62L934.25,446.62L934.93,446.62L935.61,446.62L936.30,446.62L936.98,446.62L937.67,446.62L938.35,446.62L939.03,446.62L939.72,446.62L940.40,446.62L941.08,446.62L941.77,446.62L942.45,446.62L943.14,446.62L943.82,446.62L944.50,446.62L945.19,446.62L945.87,446.62L946.56,446.62L947.24,446.62L947.92,446.62L948.61,446.62L949.29,446.62L949.98,446.62L950.66,446.62L951.34,446.62L952.03,446.62L952.71,446.62L953.39,446.62L954.08,446.62L954.76,446.62L955.45,446.62L956.13,446.62L956.81,446.62L957.50,446.62L958.18,446.62L958.87,446.62L959.55,446.62L960.23,446.62L960.92,446.62L961.60,446.62L962.29,446.62L962.97,446.62L963.65,446.62L964.34,446.62L965.02,446.62L965.71,446.62L966.39,446.62L967.07,446.62L967.76,446.62L968.44,446.62L969.12,446.62L969.81,446.62L970.49,446.62L971.18,446.62L971.86,446.62L972.54,446.62L973.23,446.62L973.91,446.62L974.60,446.62L975.28,446.62L975.96,446.62L976.65,446.62L977.33,446.62L978.02,446.62L978.70,446.62L979.38,446.62L980.07,446.62L980.75,446.62L981.43,446.62L982.12,446.62L982.80,446.62L983.49,446.62L984.17,446.62L984.85,446.62L985.54,446.62L986.22,446.62L986.91,446.62L987.59,446.62L988.27,446.62L988.96,446.62L989.64,446.62L990.33,446.62L991.01,446.62L991.69,446.62L992.38,446.62L993.06,446.62L993.74,446.62L994.43,446.62L995.11,446.62L995.80,446.62L996.48,446.62L997.16,446.62L997.85,446.62L998.53,446.62L999.22,446.62L999.90,446.62L1000.58,446.62L1001.27,446.62L1001.95,446.62L1002.64,446.62L1003.32,446.62L1004.00,446.62L1004.69,446.62L1005.37,446.62L1006.06,446.62L1006.74,446.62L1007.42,446.62L1008.11,446.62L1008.79,446.62L1009.47,446.62L1010.16,446.62L1010.84,446.62L1011.53,446.62L1012.21,446.62L1012.89,446.62L1013.58,446.62L1014.26,446.62L1014.95,446.62L1015.63,446.62L1016.31,446.62L1017.00,446.62L1017.68,446.62L1018.37,446.62L1019.05,446.62L1019.73,446.62L1020.42,446.62L1021.10,446.62L1021.78,446.62L1022.47,446.62L1023.15,446.62L1023.84,446.62L1024.52,446.62L1025.20,446.62L1025.89,446.62L1026.57,446.62L1027.26,446.62L1027.94,446.62L1028.62,446.62L1029.31,446.62L1029.99,446.62L1030.68,446.62L1031.36,446.62L1032.04,446.62L1032.73,446.62L1033.41,446.62L1034.10,446.62L1034.78,446.62L1035.46,446.62L1036.15,446.62L1036.83,446.62L1037.51,446.62L1038.20,446.62L1038.88,446.62L1039.57,446.62L1040.25,446.62L1040.93,446.62L1041.62,446.62L1042.30,446.62L1042.99,446.62L1043.67,446.62L1044.35,446.62L1045.04,446.62L1045.72,446.62L1046.41,446.62L1047.09,446.62L1047.77,446.62L1048.46,446.62L1049.14,446.62L1049.82,446.62L1050.51,446.62L1051.19,446.62L1051.88,446.62L1052.56,446.62L1053.24,446.62L1053.93,446.62L1054.61,446.62L1055.30,446.62L1055.98,446.62L1056.66,446.62L1057.35,446.62L1058.03,446.62L1058.72,446.62L1059.40,446.62L1060.08,446.62L1060.77,446.62L1061.45,446.62L1062.13,446.62L1062.82,446.62L1063.50,446.62L1064.19,446.62L1064.87,446.62L1065.55,446.62L1066.24,446.62L1066.92,446.62L1067.61,446.62L1068.29,446.62L1068.97,446.62L1069.66,446.62L1070.34,446.62L1071.03,446.62L1071.71,446.62L1072.39,446.62L1073.08,446.62L1073.76,446.62L1074.45,446.62L1075.13,446.62L1075.81,446.62L1076.50,446.62L1077.18,446.62L1077.86,446.62L1078.55,446.62L1079.23,446.62L1079.92,446.62L1080.60,446.62L1081.28,446.62L1081.97,446.62L1082.65,446.62L1083.34,446.62L1084.02,446.62L1084.70,446.62L1085.39,446.62L1086.07,446.62L1086.76,446.62L1087.44,446.62L1088.12,446.62L1088.81,446.62L1089.49,446.62L1090.17,446.62L1090.86,446.62L1091.54,446.62L1092.23,446.62L1092.91,446.62L1093.59,446.62L1094.28,446.62L1094.96,446.62L1095.65,446.62" stroke="#0080ff" stroke-width="2.7" fill="none" stroke-linejoin="round"/><path d="M179.22,361.58L179.90,361.58L180.59,361.58L181.27,361.58L181.96,361.58L182.64,361.58L183.32,361.58L184.01,361.58L184.69,361.58L185.38,361.58L186.06,361.58L186.74,361.58L187.43,361.58L188.11,361.58L188.79,361.58L189.48,361.58L190.16,361.58L190.85,361.58L191.53,361.58L192.21,361.58L192.90,361.58L193.58,361.58L194.27,361.58L194.95,361.58L195.63,361.58L196.32,361.58L197.00,361.58L197.69,361.58L198.37,361.58L199.05,361.58L199.74,361.58L200.42,361.58L201.10,361.58L201.79,361.58L202.47,361.58L203.16,361.58L203.84,361.58L204.52,361.58L205.21,361.58L205.89,361.58L206.58,361.58L207.26,361.58L207.94,361.58L208.63,361.58L209.31,361.58L210.00,361.58L210.68,361.58L211.36,361.58L212.05,361.58L212.73,361.58L213.42,361.58L214.10,361.58L214.78,361.58L215.47,361.58L216.15,361.58L216.83,361.58L217.52,361.58L218.20,361.58L218.89,361.58L219.57,361.58L220.25,361.58L220.94,361.58L221.62,361.58L222.31,361.58L222.99,361.58L223.67,361.58L224.36,361.58L225.04,361.58L225.73,361.58L226.41,361.58L227.09,361.58L227.78,361.58L228.46,361.58L229.14,361.58L229.83,361.58L230.51,361.58L231.20,361.58L231.88,361.58L232.56,361.58L233.25,361.58L233.93,361.58L234.62,361.58L235.30,361.58L235.98,361.58L236.67,361.58L237.35,361.58L238.04,361.58L238.72,361.58L239.40,361.58L240.09,361.58L240.77,361.58L241.45,361.58L242.14,361.58L242.82,361.58L243.51,361.58L244.19,361.58L244.87,361.58L245.56,361.58L246.24,361.58L246.93,361.58L247.61,361.58L248.29,361.58L248.98,361.58L249.66,361.58L250.35,361.58L251.03,361.58L251.71,361.58L252.40,361.58L253.08,361.58L253.77,361.58L254.45,361.58L255.13,361.58L255.82,361.58L256.50,361.58L257.18,361.58L257.87,361.58L258.55,361.58L259.24,361.58L259.92,361.58L260.60,361.58L261.29,361.58L261.97,361.58L262.66,361.58L263.34,361.58L264.02,361.58L264.71,361.58L265.39,361.58L266.08,361.58L266.76,361.58L267.44,361.58L268.13,361.58L268.81,361.58L269.49,361.58L270.18,361.58L270.86,361.58L271.55,361.58L272.23,361.58L272.91,361.58L273.60,361.58L274.28,361.58L274.97,361.58L275.65,361.58L276.33,361.58L277.02,361.58L277.70,361.58L278.39,361.58L279.07,361.58L279.75,361.58L280.44,361.58L281.12,361.58L281.81,361.57L282.49,361.57L283.17,361.57L283.86,361.58L284.54,361.58L285.22,361.58L285.91,361.58L286.59,361.58L287.28,361.58L287.96,361.58L288.64,361.58L289.33,361.58L290.01,361.58L290.70,361.58L291.38,361.57L292.06,361.57L292.75,361.57L293.43,361.56L294.12,361.56L294.80,361.56L295.48,361.56L296.17,361.56L296.85,361.57L297.53,361.58L298.22,361.60L298.90,361.61L299.59,361.63L300.27,361.64L300.95,361.64L301.64,361.63L302.32,361.62L303.01,361.59L303.69,361.55L304.37,361.50L305.06,361.44L305.74,361.39L306.43,361.35L307.11,361.34L307.79,361.36L308.48,361.41L309.16,361.52L309.84,361.68L310.53,361.88L311.21,362.09L311.90,362.27L312.58,362.41L313.26,362.46L313.95,362.39L314.63,362.18L315.32,361.79L316.00,361.19L316.68,360.39L317.37,359.42L318.05,358.32L318.74,357.10L319.42,355.81L320.10,354.48L320.79,353.14L321.47,351.82L322.16,350.54L322.84,349.33L323.52,348.17L324.21,347.06L324.89,345.99L325.57,344.94L326.26,343.91L326.94,342.90L327.63,341.90L328.31,340.90L328.99,339.89L329.68,338.88L330.36,337.87L331.05,336.87L331.73,335.88L332.41,334.90L333.10,333.94L333.78,332.99L334.47,332.05L335.15,331.14L335.83,330.25L336.52,329.38L337.20,328.53L337.88,327.70L338.57,326.89L339.25,326.10L339.94,325.32L340.62,324.57L341.30,323.83L341.99,323.12L342.67,322.42L343.36,321.75L344.04,321.09L344.72,320.46L345.41,319.85L346.09,319.26L346.78,318.70L347.46,318.16L348.14,317.64L348.83,317.14L349.51,316.67L350.20,316.23L350.88,315.80L351.56,315.41L352.25,315.03L352.93,314.68L353.61,314.36L354.30,314.06L354.98,313.78L355.67,313.53L356.35,313.30L357.03,313.10L357.72,312.92L358.40,312.77L359.09,312.65L359.77,312.55L360.45,312.47L361.14,312.42L361.82,312.40L362.51,312.40L363.19,312.42L363.87,312.47L364.56,312.55L365.24,312.65L365.92,312.78L366.61,312.92L367.29,313.10L367.98,313.30L368.66,313.52L369.34,313.77L370.03,314.04L370.71,314.33L371.40,314.65L372.08,314.99L372.76,315.35L373.45,315.74L374.13,316.15L374.82,316.58L375.50,317.03L376.18,317.51L376.87,318.00L377.55,318.52L378.23,319.06L378.92,319.62L379.60,320.20L380.29,320.80L380.97,321.42L381.65,322.06L382.34,322.72L383.02,323.39L383.71,324.09L384.39,324.80L385.07,325.53L385.76,326.28L386.44,327.04L387.13,327.82L387.81,328.61L388.49,329.42L389.18,330.25L389.86,331.09L390.55,331.95L391.23,332.81L391.91,333.70L392.60,334.59L393.28,335.50L393.96,336.42L394.65,337.35L395.33,338.29L396.02,339.24L396.70,340.21L397.38,341.18L398.07,342.16L398.75,343.15L399.44,344.15L400.12,345.16L400.80,346.17L401.49,347.19L402.17,348.22L402.86,349.25L403.54,350.29L404.22,351.34L404.91,352.39L405.59,353.44L406.27,354.50L406.96,355.55L407.64,356.62L408.33,357.68L409.01,358.75L409.69,359.81L410.38,360.88L411.06,361.95L411.75,363.02L412.43,364.09L413.11,365.15L413.80,366.22L414.48,367.28L415.17,368.34L415.85,369.40L416.53,370.45L417.22,371.50L417.90,372.55L418.59,373.59L419.27,374.63L419.95,375.66L420.64,376.68L421.32,377.70L422.00,378.71L422.69,379.72L423.37,380.72L424.06,381.71L424.74,382.69L425.42,383.66L426.11,384.62L426.79,385.58L427.48,386.52L428.16,387.46L428.84,388.38L429.53,389.29L430.21,390.20L430.90,391.09L431.58,391.96L432.26,392.83L432.95,393.68L433.63,394.53L434.31,395.35L435.00,396.17L435.68,396.97L436.37,397.76L437.05,398.53L437.73,399.29L438.42,400.03L439.10,400.76L439.79,401.48L440.47,402.17L441.15,402.86L441.84,403.52L442.52,404.17L443.21,404.81L443.89,405.43L444.57,406.03L445.26,406.61L445.94,407.18L446.62,407.73L447.31,408.26L447.99,408.78L448.68,409.28L449.36,409.76L450.04,410.22L450.73,410.66L451.41,411.09L452.10,411.50L452.78,411.89L453.46,412.26L454.15,412.61L454.83,412.94L455.52,413.26L456.20,413.56L456.88,413.83L457.57,414.09L458.25,414.33L458.94,414.55L459.62,414.76L460.30,414.94L460.99,415.11L461.67,415.25L462.35,415.38L463.04,415.49L463.72,415.58L464.41,415.65L465.09,415.70L465.77,415.73L466.46,415.75L467.14,415.74L467.83,415.72L468.51,415.68L469.19,415.62L469.88,415.54L470.56,415.44L471.25,415.33L471.93,415.20L472.61,415.05L473.30,414.88L473.98,414.69L474.66,414.49L475.35,414.27L476.03,414.03L476.72,413.77L477.40,413.50L478.08,413.21L478.77,412.90L479.45,412.58L480.14,412.24L480.82,411.88L481.50,411.51L482.19,411.12L482.87,410.72L483.56,410.30L484.24,409.86L484.92,409.41L485.61,408.94L486.29,408.46L486.98,407.97L487.66,407.46L488.34,406.93L489.03,406.40L489.71,405.84L490.39,405.28L491.08,404.70L491.76,404.11L492.45,403.50L493.13,402.89L493.81,402.26L494.50,401.61L495.18,400.96L495.87,400.29L496.55,399.62L497.23,398.93L497.92,398.23L498.60,397.52L499.29,396.80L499.97,396.07L500.65,395.32L501.34,394.57L502.02,393.81L502.70,393.04L503.39,392.26L504.07,391.48L504.76,390.68L505.44,389.88L506.12,389.06L506.81,388.24L507.49,387.42L508.18,386.58L508.86,385.74L509.54,384.89L510.23,384.04L510.91,383.17L511.60,382.31L512.28,381.44L512.96,380.56L513.65,379.67L514.33,378.79L515.01,377.89L515.70,377.00L516.38,376.10L517.07,375.19L517.75,374.28L518.43,373.37L519.12,372.46L519.80,371.54L520.49,370.62L521.17,369.70L521.85,368.77L522.54,367.84L523.22,366.92L523.91,365.99L524.59,365.06L525.27,364.13L525.96,363.19L526.64,362.26L527.33,361.33L528.01,360.40L528.69,359.46L529.38,358.53L530.06,357.60L530.74,356.67L531.43,355.74L532.11,354.81L532.80,353.89L533.48,352.96L534.16,352.04L534.85,351.12L535.53,350.20L536.22,349.29L536.90,348.38L537.58,347.47L538.27,346.56L538.95,345.66L539.64,344.76L540.32,343.87L541.00,342.98L541.69,342.09L542.37,341.21L543.05,340.33L543.74,339.46L544.42,338.59L545.11,337.73L545.79,336.87L546.47,336.02L547.16,335.17L547.84,334.33L548.53,333.50L549.21,332.67L549.89,331.85L550.58,331.03L551.26,330.22L551.95,329.41L552.63,328.62L553.31,327.83L554.00,327.04L554.68,326.27L555.37,325.50L556.05,324.74L556.73,323.98L557.42,323.24L558.10,322.50L558.78,321.77L559.47,321.04L560.15,320.33L560.84,319.62L561.52,318.92L562.20,318.23L562.89,317.55L563.57,316.87L564.26,316.21L564.94,315.55L565.62,314.90L566.31,314.26L566.99,313.63L567.68,313.01L568.36,312.39L569.04,311.79L569.73,311.19L570.41,310.60L571.09,310.03L571.78,309.46L572.46,308.90L573.15,308.35L573.83,307.81L574.51,307.28L575.20,306.76L575.88,306.24L576.57,305.74L577.25,305.25L577.93,304.76L578.62,304.29L579.30,303.82L579.99,303.36L580.67,302.92L581.35,302.48L582.04,302.05L582.72,301.64L583.40,301.23L584.09,300.83L584.77,300.44L585.46,300.06L586.14,299.69L586.82,299.33L587.51,298.98L588.19,298.63L588.88,298.30L589.56,297.98L590.24,297.67L590.93,297.36L591.61,297.07L592.30,296.78L592.98,296.51L593.66,296.24L594.35,295.98L595.03,295.73L595.72,295.49L596.40,295.26L597.08,295.04L597.77,294.83L598.45,294.63L599.13,294.43L599.82,294.25L600.50,294.07L601.19,293.91L601.87,293.75L602.55,293.60L603.24,293.46L603.92,293.32L604.61,293.20L605.29,293.08L605.97,292.98L606.66,292.88L607.34,292.79L608.03,292.71L608.71,292.63L609.39,292.57L610.08,292.51L610.76,292.46L611.44,292.42L612.13,292.38L612.81,292.35L613.50,292.34L614.18,292.33L614.86,292.32L615.55,292.33L616.23,292.34L616.92,292.36L617.60,292.38L618.28,292.41L618.97,292.45L619.65,292.50L620.34,292.56L621.02,292.62L621.70,292.68L622.39,292.76L623.07,292.84L623.76,292.93L624.44,293.02L625.12,293.12L625.81,293.23L626.49,293.34L627.17,293.46L627.86,293.58L628.54,293.71L629.23,293.85L629.91,293.99L630.59,294.14L631.28,294.29L631.96,294.45L632.65,294.62L633.33,294.79L634.01,294.96L634.70,295.14L635.38,295.33L636.07,295.52L636.75,295.71L637.43,295.91L638.12,296.12L638.80,296.32L639.48,296.54L640.17,296.76L640.85,296.98L641.54,297.21L642.22,297.44L642.90,297.67L643.59,297.91L644.27,298.15L644.96,298.40L645.64,298.65L646.32,298.91L647.01,299.16L647.69,299.43L648.38,299.69L649.06,299.96L649.74,300.23L650.43,300.51L651.11,300.78L651.79,301.06L652.48,301.35L653.16,301.64L653.85,301.93L654.53,302.22L655.21,302.51L655.90,302.81L656.58,303.11L657.27,303.41L657.95,303.72L658.63,304.03L659.32,304.33L660.00,304.65L660.69,304.96L661.37,305.28L662.05,305.59L662.74,305.91L663.42,306.23L664.11,306.56L664.79,306.88L665.47,307.21L666.16,307.53L666.84,307.86L667.52,308.19L668.21,308.52L668.89,308.86L669.58,309.19L670.26,309.52L670.94,309.86L671.63,310.20L672.31,310.53L673.00,310.87L673.68,311.21L674.36,311.55L675.05,311.89L675.73,312.23L676.42,312.58L677.10,312.92L677.78,313.26L678.47,313.60L679.15,313.95L679.83,314.29L680.52,314.64L681.20,314.98L681.89,315.32L682.57,315.67L683.25,316.01L683.94,316.36L684.62,316.70L685.31,317.04L685.99,317.39L686.67,317.73L687.36,318.07L688.04,318.42L688.73,318.76L689.41,319.10L690.09,319.44L690.78,319.78L691.46,320.12L692.15,320.46L692.83,320.80L693.51,321.14L694.20,321.48L694.88,321.82L695.56,322.15L696.25,322.49L696.93,322.82L697.62,323.16L698.30,323.49L698.98,323.82L699.67,324.15L700.35,324.48L701.04,324.81L701.72,325.14L702.40,325.47L703.09,325.79L703.77,326.11L704.46,326.44L705.14,326.76L705.82,327.08L706.51,327.40L707.19,327.72L707.87,328.03L708.56,328.35L709.24,328.66L709.93,328.98L710.61,329.29L711.29,329.60L711.98,329.91L712.66,330.21L713.35,330.52L714.03,330.82L714.71,331.12L715.40,331.42L716.08,331.72L716.77,332.02L717.45,332.32L718.13,332.61L718.82,332.90L719.50,333.19L720.18,333.48L720.87,333.77L721.55,334.06L722.24,334.34L722.92,334.62L723.60,334.90L724.29,335.18L724.97,335.46L725.66,335.74L726.34,336.01L727.02,336.28L727.71,336.55L728.39,336.82L729.08,337.09L729.76,337.35L730.44,337.61L731.13,337.88L731.81,338.13L732.50,338.39L733.18,338.65L733.86,338.90L734.55,339.15L735.23,339.40L735.91,339.65L736.60,339.90L737.28,340.14L737.97,340.38L738.65,340.62L739.33,340.86L740.02,341.10L740.70,341.34L741.39,341.57L742.07,341.80L742.75,342.03L743.44,342.26L744.12,342.48L744.81,342.71L745.49,342.93L746.17,343.15L746.86,343.37L747.54,343.58L748.22,343.80L748.91,344.01L749.59,344.22L750.28,344.43L750.96,344.64L751.64,344.84L752.33,345.04L753.01,345.25L753.70,345.45L754.38,345.64L755.06,345.84L755.75,346.03L756.43,346.23L757.12,346.42L757.80,346.61L758.48,346.79L759.17,346.98L759.85,347.16L760.54,347.34L761.22,347.52L761.90,347.70L762.59,347.88L763.27,348.05L763.95,348.22L764.64,348.40L765.32,348.56L766.01,348.73L766.69,348.90L767.37,349.06L768.06,349.23L768.74,349.39L769.43,349.55L770.11,349.70L770.79,349.86L771.48,350.01L772.16,350.17L772.85,350.32L773.53,350.47L774.21,350.61L774.90,350.76L775.58,350.90L776.26,351.05L776.95,351.19L777.63,351.33L778.32,351.47L779.00,351.60L779.68,351.74L780.37,351.87L781.05,352.00L781.74,352.14L782.42,352.26L783.10,352.39L783.79,352.52L784.47,352.64L785.16,352.77L785.84,352.89L786.52,353.01L787.21,353.13L787.89,353.25L788.57,353.36L789.26,353.48L789.94,353.59L790.63,353.70L791.31,353.81L791.99,353.92L792.68,354.03L793.36,354.14L794.05,354.24L794.73,354.35L795.41,354.45L796.10,354.55L796.78,354.65L797.47,354.75L798.15,354.85L798.83,354.95L799.52,355.04L800.20,355.14L800.89,355.23L801.57,355.32L802.25,355.41L802.94,355.50L803.62,355.59L804.30,355.68L804.99,355.76L805.67,355.85L806.36,355.93L807.04,356.01L807.72,356.09L808.41,356.17L809.09,356.25L809.78,356.33L810.46,356.41L811.14,356.49L811.83,356.56L812.51,356.63L813.20,356.71L813.88,356.78L814.56,356.85L815.25,356.92L815.93,356.99L816.61,357.06L817.30,357.12L817.98,357.19L818.67,357.26L819.35,357.32L820.03,357.38L820.72,357.45L821.40,357.51L822.09,357.57L822.77,357.63L823.45,357.69L824.14,357.75L824.82,357.80L825.51,357.86L826.19,357.92L826.87,357.97L827.56,358.02L828.24,358.08L828.93,358.13L829.61,358.18L830.29,358.23L830.98,358.28L831.66,358.33L832.34,358.38L833.03,358.43L833.71,358.47L834.40,358.52L835.08,358.57L835.76,358.61L836.45,358.65L837.13,358.70L837.82,358.74L838.50,358.78L839.18,358.82L839.87,358.87L840.55,358.91L841.24,358.94L841.92,358.98L842.60,359.02L843.29,359.06L843.97,359.10L844.65,359.13L845.34,359.17L846.02,359.20L846.71,359.24L847.39,359.27L848.07,359.30L848.76,359.34L849.44,359.37L850.13,359.40L850.81,359.43L851.49,359.46L852.18,359.49L852.86,359.52L853.55,359.55L854.23,359.58L854.91,359.60L855.60,359.63L856.28,359.66L856.96,359.68L857.65,359.71L858.33,359.74L859.02,359.76L859.70,359.78L860.38,359.81L861.07,359.83L861.75,359.85L862.44,359.88L863.12,359.90L863.80,359.92L864.49,359.94L865.17,359.96L865.86,359.98L866.54,360.00L867.22,360.02L867.91,360.04L868.59,360.06L869.28,360.08L869.96,360.09L870.64,360.11L871.33,360.12L872.01,360.13L872.69,360.15L873.38,360.16L874.06,360.18L874.75,360.20L875.43,360.22L876.11,360.24L876.80,360.27L877.48,360.29L878.17,360.31L878.85,360.33L879.53,360.35L880.22,360.36L880.90,360.36L881.59,360.35L882.27,360.33L882.95,360.30L883.64,360.27L884.32,360.24L885.00,360.22L885.69,360.22L886.37,360.24L887.06,360.30L887.74,360.38L888.42,360.51L889.11,360.68L889.79,360.87L890.48,361.08L891.16,361.29L891.84,361.50L892.53,361.69L893.21,361.86L893.90,361.98L894.58,362.05L895.26,362.08L895.95,362.06L896.63,362.02L897.32,361.95L898.00,361.86L898.68,361.77L899.37,361.68L900.05,361.60L900.73,361.54L901.42,361.51L902.10,361.49L902.79,361.48L903.47,361.49L904.15,361.51L904.84,361.53L905.52,361.55L906.21,361.57L906.89,361.58L907.57,361.59L908.26,361.60L908.94,361.60L909.63,361.60L910.31,361.59L910.99,361.59L911.68,361.58L912.36,361.58L913.04,361.57L913.73,361.57L914.41,361.57L915.10,361.57L915.78,361.57L916.46,361.57L917.15,361.57L917.83,361.57L918.52,361.58L919.20,361.58L919.88,361.58L920.57,361.58L921.25,361.58L921.94,361.58L922.62,361.58L923.30,361.58L923.99,361.58L924.67,361.58L925.35,361.58L926.04,361.58L926.72,361.58L927.41,361.58L928.09,361.58L928.77,361.58L929.46,361.58L930.14,361.58L930.83,361.58L931.51,361.58L932.19,361.58L932.88,361.58L933.56,361.58L934.25,361.58L934.93,361.58L935.61,361.58L936.30,361.58L936.98,361.58L937.67,361.58L938.35,361.58L939.03,361.58L939.72,361.58L940.40,361.58L941.08,361.58L941.77,361.58L942.45,361.58L943.14,361.58L943.82,361.58L944.50,361.58L945.19,361.58L945.87,361.58L946.56,361.58L947.24,361.58L947.92,361.58L948.61,361.58L949.29,361.58L949.98,361.58L950.66,361.58L951.34,361.58L952.03,361.58L952.71,361.58L953.39,361.58L954.08,361.58L954.76,361.58L955.45,361.58L956.13,361.58L956.81,361.58L957.50,361.58L958.18,361.58L958.87,361.58L959.55,361.58L960.23,361.58L960.92,361.58L961.60,361.58L962.29,361.58L962.97,361.58L963.65,361.58L964.34,361.58L965.02,361.58L965.71,361.58L966.39,361.58L967.07,361.58L967.76,361.58L968.44,361.58L969.12,361.58L969.81,361.58L970.49,361.58L971.18,361.58L971.86,361.58L972.54,361.58L973.23,361.58L973.91,361.58L974.60,361.58L975.28,361.58L975.96,361.58L976.65,361.58L977.33,361.58L978.02,361.58L978.70,361.58L979.38,361.58L980.07,361.58L980.75,361.58L981.43,361.58L982.12,361.58L982.80,361.58L983.49,361.58L984.17,361.58L984.85,361.58L985.54,361.58L986.22,361.58L986.91,361.58L987.59,361.58L988.27,361.58L988.96,361.58L989.64,361.58L990.33,361.58L991.01,361.58L991.69,361.58L992.38,361.58L993.06,361.58L993.74,361.58L994.43,361.58L995.11,361.58L995.80,361.58L996.48,361.58L997.16,361.58L997.85,361.58L998.53,361.58L999.22,361.58L999.90,361.58L1000.58,361.58L1001.27,361.58L1001.95,361.58L1002.64,361.58L1003.32,361.58L1004.00,361.58L1004.69,361.58L1005.37,361.58L1006.06,361.58L1006.74,361.58L1007.42,361.58L1008.11,361.58L1008.79,361.58L1009.47,361.58L1010.16,361.58L1010.84,361.58L1011.53,361.58L1012.21,361.58L1012.89,361.58L1013.58,361.58L1014.26,361.58L1014.95,361.58L1015.63,361.58L1016.31,361.58L1017.00,361.58L1017.68,361.58L1018.37,361.58L1019.05,361.58L1019.73,361.58L1020.42,361.58L1021.10,361.58L1021.78,361.58L1022.47,361.58L1023.15,361.58L1023.84,361.58L1024.52,361.58L1025.20,361.58L1025.89,361.58L1026.57,361.58L1027.26,361.58L1027.94,361.58L1028.62,361.58L1029.31,361.58L1029.99,361.58L1030.68,361.58L1031.36,361.58L1032.04,361.58L1032.73,361.58L1033.41,361.58L1034.10,361.58L1034.78,361.58L1035.46,361.58L1036.15,361.58L1036.83,361.58L1037.51,361.58L1038.20,361.58L1038.88,361.58L1039.57,361.58L1040.25,361.58L1040.93,361.58L1041.62,361.58L1042.30,361.58L1042.99,361.58L1043.67,361.58L1044.35,361.58L1045.04,361.58L1045.72,361.58L1046.41,361.58L1047.09,361.58L1047.77,361.58L1048.46,361.58L1049.14,361.58L1049.82,361.58L1050.51,361.58L1051.19,361.58L1051.88,361.58L1052.56,361.58L1053.24,361.58L1053.93,361.58L1054.61,361.58L1055.30,361.58L1055.98,361.58L1056.66,361.58L1057.35,361.58L1058.03,361.58L1058.72,361.58L1059.40,361.58L1060.08,361.58L1060.77,361.58L1061.45,361.58L1062.13,361.58L1062.82,361.58L1063.50,361.58L1064.19,361.58L1064.87,361.58L1065.55,361.58L1066.24,361.58L1066.92,361.58L1067.61,361.58L1068.29,361.58L1068.97,361.58L1069.66,361.58L1070.34,361.58L1071.03,361.58L1071.71,361.58L1072.39,361.58L1073.08,361.58L1073.76,361.58L1074.45,361.58L1075.13,361.58L1075.81,361.58L1076.50,361.58L1077.18,361.58L1077.86,361.58L1078.55,361.58L1079.23,361.58L1079.92,361.58L1080.60,361.58L1081.28,361.58L1081.97,361.58L1082.65,361.58L1083.34,361.58L1084.02,361.58L1084.70,361.58L1085.39,361.58L1086.07,361.58L1086.76,361.58L1087.44,361.58L1088.12,361.58L1088.81,361.58L1089.49,361.58L1090.17,361.58L1090.86,361.58L1091.54,361.58L1092.23,361.58L1092.91,361.58L1093.59,361.58L1094.28,361.58L1094.96,361.58L1095.65,361.58" stroke="#00c000" stroke-width="2.7" fill="none" stroke-linejoin="round"/><path d="M179.22,286.41L179.90,286.41L180.59,286.41L181.27,286.41L181.96,286.41L182.64,286.41L183.32,286.41L184.01,286.41L184.69,286.41L185.38,286.41L186.06,286.41L186.74,286.41L187.43,286.41L188.11,286.41L188.79,286.41L189.48,286.41L190.16,286.41L190.85,286.41L191.53,286.41L192.21,286.41L192.90,286.41L193.58,286.41L194.27,286.41L194.95,286.41L195.63,286.41L196.32,286.41L197.00,286.41L197.69,286.41L198.37,286.41L199.05,286.41L199.74,286.41L200.42,286.41L201.10,286.41L201.79,286.41L202.47,286.41L203.16,286.41L203.84,286.41L204.52,286.41L205.21,286.41L205.89,286.41L206.58,286.41L207.26,286.41L207.94,286.41L208.63,286.41L209.31,286.41L210.00,286.41L210.68,286.41L211.36,286.41L212.05,286.41L212.73,286.41L213.42,286.41L214.10,286.41L214.78,286.41L215.47,286.41L216.15,286.41L216.83,286.41L217.52,286.41L218.20,286.41L218.89,286.41L219.57,286.41L220.25,286.41L220.94,286.41L221.62,286.41L222.31,286.41L222.99,286.41L223.67,286.41L224.36,286.41L225.04,286.41L225.73,286.41L226.41,286.41L227.09,286.41L227.78,286.41L228.46,286.41L229.14,286.41L229.83,286.41L230.51,286.41L231.20,286.41L231.88,286.41L232.56,286.41L233.25,286.41L233.93,286.41L234.62,286.41L235.30,286.41L235.98,286.41L236.67,286.41L237.35,286.41L238.04,286.41L238.72,286.41L239.40,286.41L240.09,286.41L240.77,286.41L241.45,286.41L242.14,286.41L242.82,286.41L243.51,286.41L244.19,286.41L244.87,286.41L245.56,286.41L246.24,286.41L246.93,286.41L247.61,286.41L248.29,286.41L248.98,286.41L249.66,286.41L250.35,286.41L251.03,286.41L251.71,286.41L252.40,286.41L253.08,286.41L253.77,286.41L254.45,286.41L255.13,286.41L255.82,286.41L256.50,286.41L257.18,286.41L257.87,286.41L258.55,286.41L259.24,286.41L259.92,286.41L260.60,286.41L261.29,286.41L261.97,286.41L262.66,286.41L263.34,286.41L264.02,286.41L264.71,286.41L265.39,286.41L266.08,286.41L266.76,286.41L267.44,286.41L268.13,286.41L268.81,286.41L269.49,286.41L270.18,286.41L270.86,286.41L271.55,286.41L272.23,286.41L272.91,286.41L273.60,286.41L274.28,286.41L274.97,286.41L275.65,286.41L276.33,286.41L277.02,286.41L277.70,286.41L278.39,286.41L279.07,286.41L279.75,286.41L280.44,286.41L281.12,286.41L281.81,286.41L282.49,286.41L283.17,286.41L283.86,286.41L284.54,286.41L285.22,286.41L285.91,286.41L286.59,286.41L287.28,286.41L287.96,286.41L288.64,286.41L289.33,286.41L290.01,286.41L290.70,286.41L291.38,286.41L292.06,286.42L292.75,286.42L293.43,286.43L294.12,286.43L294.80,286.43L295.48,286.43L296.17,286.42L296.85,286.42L297.53,286.40L298.22,286.39L298.90,286.38L299.59,286.36L300.27,286.35L300.95,286.35L301.64,286.35L302.32,286.37L303.01,286.40L303.69,286.44L304.37,286.49L305.06,286.55L305.74,286.60L306.43,286.63L307.11,286.65L307.79,286.63L308.48,286.57L309.16,286.47L309.84,286.31L310.53,286.11L311.21,285.90L311.90,285.72L312.58,285.58L313.26,285.53L313.95,285.60L314.63,285.81L315.32,286.20L316.00,286.80L316.68,287.59L317.37,288.56L318.05,289.67L318.74,290.88L319.42,292.17L320.10,293.50L320.79,294.84L321.47,296.16L322.16,297.42L322.84,298.62L323.52,299.77L324.21,300.88L324.89,301.94L325.57,302.97L326.26,303.98L326.94,304.97L327.63,305.95L328.31,306.93L328.99,307.91L329.68,308.89L330.36,309.86L331.05,310.83L331.73,311.78L332.41,312.72L333.10,313.64L333.78,314.54L334.47,315.42L335.15,316.27L335.83,317.10L336.52,317.91L337.20,318.70L337.88,319.46L338.57,320.19L339.25,320.91L339.94,321.60L340.62,322.26L341.30,322.91L341.99,323.53L342.67,324.12L343.36,324.69L344.04,325.24L344.72,325.76L345.41,326.25L346.09,326.72L346.78,327.16L347.46,327.57L348.14,327.95L348.83,328.31L349.51,328.63L350.20,328.93L350.88,329.20L351.56,329.45L352.25,329.66L352.93,329.85L353.61,330.01L354.30,330.14L354.98,330.24L355.67,330.31L356.35,330.35L357.03,330.36L357.72,330.35L358.40,330.31L359.09,330.24L359.77,330.14L360.45,330.01L361.14,329.85L361.82,329.67L362.51,329.45L363.19,329.21L363.87,328.95L364.56,328.65L365.24,328.33L365.92,327.98L366.61,327.60L367.29,327.20L367.98,326.77L368.66,326.32L369.34,325.84L370.03,325.34L370.71,324.81L371.40,324.26L372.08,323.68L372.76,323.08L373.45,322.46L374.13,321.82L374.82,321.15L375.50,320.46L376.18,319.75L376.87,319.02L377.55,318.27L378.23,317.50L378.92,316.71L379.60,315.90L380.29,315.07L380.97,314.23L381.65,313.37L382.34,312.49L383.02,311.59L383.71,310.68L384.39,309.76L385.07,308.82L385.76,307.87L386.44,306.90L387.13,305.93L387.81,304.94L388.49,303.94L389.18,302.93L389.86,301.90L390.55,300.87L391.23,299.84L391.91,298.79L392.60,297.73L393.28,296.67L393.96,295.61L394.65,294.53L395.33,293.46L396.02,292.37L396.70,291.29L397.38,290.20L398.07,289.11L398.75,288.02L399.44,286.93L400.12,285.83L400.80,284.74L401.49,283.65L402.17,282.56L402.86,281.47L403.54,280.38L404.22,279.30L404.91,278.23L405.59,277.15L406.27,276.09L406.96,275.02L407.64,273.97L408.33,272.92L409.01,271.88L409.69,270.85L410.38,269.83L411.06,268.81L411.75,267.81L412.43,266.82L413.11,265.83L413.80,264.86L414.48,263.90L415.17,262.96L415.85,262.03L416.53,261.11L417.22,260.20L417.90,259.31L418.59,258.44L419.27,257.58L419.95,256.73L420.64,255.91L421.32,255.09L422.00,254.30L422.69,253.53L423.37,252.77L424.06,252.03L424.74,251.31L425.42,250.61L426.11,249.92L426.79,249.26L427.48,248.62L428.16,248.00L428.84,247.40L429.53,246.82L430.21,246.26L430.90,245.72L431.58,245.21L432.26,244.71L432.95,244.24L433.63,243.79L434.31,243.37L435.00,242.96L435.68,242.58L436.37,242.22L437.05,241.89L437.73,241.58L438.42,241.29L439.10,241.03L439.79,240.79L440.47,240.57L441.15,240.38L441.84,240.21L442.52,240.07L443.21,239.94L443.89,239.85L444.57,239.77L445.26,239.73L445.94,239.70L446.62,239.70L447.31,239.72L447.99,239.77L448.68,239.84L449.36,239.93L450.04,240.05L450.73,240.19L451.41,240.35L452.10,240.54L452.78,240.75L453.46,240.98L454.15,241.24L454.83,241.51L455.52,241.81L456.20,242.14L456.88,242.48L457.57,242.85L458.25,243.23L458.94,243.64L459.62,244.07L460.30,244.52L460.99,244.99L461.67,245.48L462.35,245.99L463.04,246.52L463.72,247.07L464.41,247.64L465.09,248.23L465.77,248.83L466.46,249.46L467.14,250.10L467.83,250.75L468.51,251.43L469.19,252.12L469.88,252.83L470.56,253.55L471.25,254.29L471.93,255.05L472.61,255.82L473.30,256.60L473.98,257.40L474.66,258.21L475.35,259.03L476.03,259.87L476.72,260.72L477.40,261.58L478.08,262.45L478.77,263.34L479.45,264.23L480.14,265.14L480.82,266.05L481.50,266.97L482.19,267.91L482.87,268.85L483.56,269.79L484.24,270.75L484.92,271.71L485.61,272.68L486.29,273.66L486.98,274.64L487.66,275.63L488.34,276.62L489.03,277.61L489.71,278.61L490.39,279.62L491.08,280.62L491.76,281.63L492.45,282.64L493.13,283.65L493.81,284.67L494.50,285.68L495.18,286.70L495.87,287.71L496.55,288.73L497.23,289.74L497.92,290.75L498.60,291.76L499.29,292.77L499.97,293.77L500.65,294.77L501.34,295.77L502.02,296.77L502.70,297.75L503.39,298.74L504.07,299.72L504.76,300.69L505.44,301.66L506.12,302.62L506.81,303.58L507.49,304.53L508.18,305.47L508.86,306.40L509.54,307.33L510.23,308.24L510.91,309.15L511.60,310.05L512.28,310.93L512.96,311.81L513.65,312.68L514.33,313.54L515.01,314.38L515.70,315.22L516.38,316.04L517.07,316.86L517.75,317.66L518.43,318.44L519.12,319.22L519.80,319.98L520.49,320.73L521.17,321.46L521.85,322.18L522.54,322.89L523.22,323.59L523.91,324.27L524.59,324.93L525.27,325.58L525.96,326.21L526.64,326.83L527.33,327.44L528.01,328.02L528.69,328.60L529.38,329.15L530.06,329.69L530.74,330.22L531.43,330.72L532.11,331.22L532.80,331.69L533.48,332.15L534.16,332.59L534.85,333.01L535.53,333.42L536.22,333.80L536.90,334.18L537.58,334.53L538.27,334.87L538.95,335.18L539.64,335.48L540.32,335.77L541.00,336.03L541.69,336.28L542.37,336.51L543.05,336.72L543.74,336.92L544.42,337.09L545.11,337.25L545.79,337.39L546.47,337.51L547.16,337.62L547.84,337.70L548.53,337.77L549.21,337.82L549.89,337.85L550.58,337.87L551.26,337.87L551.95,337.84L552.63,337.81L553.31,337.75L554.00,337.68L554.68,337.59L555.37,337.48L556.05,337.36L556.73,337.21L557.42,337.05L558.10,336.88L558.78,336.69L559.47,336.48L560.15,336.25L560.84,336.01L561.52,335.75L562.20,335.48L562.89,335.19L563.57,334.88L564.26,334.56L564.94,334.22L565.62,333.87L566.31,333.50L566.99,333.12L567.68,332.72L568.36,332.31L569.04,331.88L569.73,331.44L570.41,330.98L571.09,330.51L571.78,330.03L572.46,329.53L573.15,329.02L573.83,328.50L574.51,327.96L575.20,327.41L575.88,326.85L576.57,326.28L577.25,325.69L577.93,325.10L578.62,324.49L579.30,323.87L579.99,323.23L580.67,322.59L581.35,321.94L582.04,321.27L582.72,320.60L583.40,319.92L584.09,319.22L584.77,318.52L585.46,317.81L586.14,317.08L586.82,316.35L587.51,315.61L588.19,314.87L588.88,314.11L589.56,313.35L590.24,312.58L590.93,311.80L591.61,311.01L592.30,310.22L592.98,309.42L593.66,308.61L594.35,307.80L595.03,306.99L595.72,306.16L596.40,305.33L597.08,304.50L597.77,303.66L598.45,302.82L599.13,301.97L599.82,301.12L600.50,300.26L601.19,299.41L601.87,298.54L602.55,297.68L603.24,296.81L603.92,295.94L604.61,295.06L605.29,294.19L605.97,293.31L606.66,292.43L607.34,291.55L608.03,290.66L608.71,289.78L609.39,288.90L610.08,288.01L610.76,287.12L611.44,286.24L612.13,285.35L612.81,284.47L613.50,283.58L614.18,282.70L614.86,281.81L615.55,280.93L616.23,280.05L616.92,279.17L617.60,278.29L618.28,277.42L618.97,276.54L619.65,275.67L620.34,274.80L621.02,273.94L621.70,273.07L622.39,272.21L623.07,271.36L623.76,270.50L624.44,269.65L625.12,268.81L625.81,267.96L626.49,267.13L627.17,266.29L627.86,265.46L628.54,264.64L629.23,263.82L629.91,263.00L630.59,262.19L631.28,261.39L631.96,260.59L632.65,259.80L633.33,259.01L634.01,258.23L634.70,257.45L635.38,256.68L636.07,255.92L636.75,255.16L637.43,254.41L638.12,253.66L638.80,252.93L639.48,252.19L640.17,251.47L640.85,250.75L641.54,250.04L642.22,249.34L642.90,248.65L643.59,247.96L644.27,247.28L644.96,246.61L645.64,245.94L646.32,245.28L647.01,244.63L647.69,243.99L648.38,243.36L649.06,242.73L649.74,242.12L650.43,241.51L651.11,240.91L651.79,240.32L652.48,239.73L653.16,239.16L653.85,238.59L654.53,238.03L655.21,237.48L655.90,236.94L656.58,236.41L657.27,235.89L657.95,235.38L658.63,234.87L659.32,234.37L660.00,233.89L660.69,233.41L661.37,232.94L662.05,232.48L662.74,232.02L663.42,231.58L664.11,231.15L664.79,230.72L665.47,230.31L666.16,229.90L666.84,229.50L667.52,229.11L668.21,228.74L668.89,228.36L669.58,228.00L670.26,227.65L670.94,227.31L671.63,226.97L672.31,226.65L673.00,226.33L673.68,226.02L674.36,225.73L675.05,225.44L675.73,225.16L676.42,224.88L677.10,224.62L677.78,224.37L678.47,224.12L679.15,223.89L679.83,223.66L680.52,223.44L681.20,223.23L681.89,223.03L682.57,222.83L683.25,222.65L683.94,222.47L684.62,222.30L685.31,222.14L685.99,221.99L686.67,221.85L687.36,221.72L688.04,221.59L688.73,221.47L689.41,221.36L690.09,221.26L690.78,221.16L691.46,221.08L692.15,221.00L692.83,220.93L693.51,220.86L694.20,220.81L694.88,220.76L695.56,220.72L696.25,220.69L696.93,220.66L697.62,220.64L698.30,220.63L698.98,220.63L699.67,220.63L700.35,220.64L701.04,220.66L701.72,220.68L702.40,220.72L703.09,220.75L703.77,220.80L704.46,220.85L705.14,220.91L705.82,220.97L706.51,221.04L707.19,221.12L707.87,221.20L708.56,221.29L709.24,221.38L709.93,221.48L710.61,221.59L711.29,221.70L711.98,221.82L712.66,221.94L713.35,222.07L714.03,222.21L714.71,222.35L715.40,222.49L716.08,222.64L716.77,222.80L717.45,222.96L718.13,223.13L718.82,223.30L719.50,223.47L720.18,223.65L720.87,223.84L721.55,224.03L722.24,224.22L722.92,224.42L723.60,224.62L724.29,224.83L724.97,225.04L725.66,225.25L726.34,225.47L727.02,225.70L727.71,225.92L728.39,226.15L729.08,226.39L729.76,226.63L730.44,226.87L731.13,227.11L731.81,227.36L732.50,227.61L733.18,227.87L733.86,228.13L734.55,228.39L735.23,228.65L735.91,228.92L736.60,229.19L737.28,229.46L737.97,229.73L738.65,230.01L739.33,230.29L740.02,230.57L740.70,230.86L741.39,231.15L742.07,231.44L742.75,231.73L743.44,232.02L744.12,232.32L744.81,232.62L745.49,232.91L746.17,233.22L746.86,233.52L747.54,233.82L748.22,234.13L748.91,234.44L749.59,234.75L750.28,235.06L750.96,235.37L751.64,235.68L752.33,236.00L753.01,236.32L753.70,236.63L754.38,236.95L755.06,237.27L755.75,237.59L756.43,237.91L757.12,238.23L757.80,238.55L758.48,238.88L759.17,239.20L759.85,239.52L760.54,239.85L761.22,240.17L761.90,240.50L762.59,240.83L763.27,241.15L763.95,241.48L764.64,241.80L765.32,242.13L766.01,242.46L766.69,242.79L767.37,243.11L768.06,243.44L768.74,243.77L769.43,244.09L770.11,244.42L770.79,244.75L771.48,245.07L772.16,245.40L772.85,245.72L773.53,246.05L774.21,246.37L774.90,246.70L775.58,247.02L776.26,247.34L776.95,247.66L777.63,247.99L778.32,248.31L779.00,248.63L779.68,248.95L780.37,249.27L781.05,249.58L781.74,249.90L782.42,250.22L783.10,250.53L783.79,250.85L784.47,251.16L785.16,251.47L785.84,251.78L786.52,252.10L787.21,252.40L787.89,252.71L788.57,253.02L789.26,253.33L789.94,253.63L790.63,253.93L791.31,254.24L791.99,254.54L792.68,254.84L793.36,255.14L794.05,255.43L794.73,255.73L795.41,256.02L796.10,256.32L796.78,256.61L797.47,256.90L798.15,257.19L798.83,257.47L799.52,257.76L800.20,258.04L800.89,258.33L801.57,258.61L802.25,258.89L802.94,259.17L803.62,259.44L804.30,259.72L804.99,259.99L805.67,260.26L806.36,260.53L807.04,260.80L807.72,261.07L808.41,261.33L809.09,261.60L809.78,261.86L810.46,262.12L811.14,262.38L811.83,262.63L812.51,262.89L813.20,263.14L813.88,263.39L814.56,263.64L815.25,263.89L815.93,264.14L816.61,264.38L817.30,264.63L817.98,264.87L818.67,265.11L819.35,265.34L820.03,265.58L820.72,265.81L821.40,266.05L822.09,266.28L822.77,266.51L823.45,266.73L824.14,266.96L824.82,267.18L825.51,267.40L826.19,267.62L826.87,267.84L827.56,268.06L828.24,268.27L828.93,268.49L829.61,268.70L830.29,268.91L830.98,269.11L831.66,269.32L832.34,269.52L833.03,269.73L833.71,269.93L834.40,270.12L835.08,270.32L835.76,270.52L836.45,270.71L837.13,270.90L837.82,271.09L838.50,271.28L839.18,271.47L839.87,271.65L840.55,271.83L841.24,272.02L841.92,272.20L842.60,272.37L843.29,272.55L843.97,272.72L844.65,272.90L845.34,273.07L846.02,273.24L846.71,273.41L847.39,273.57L848.07,273.74L848.76,273.90L849.44,274.06L850.13,274.22L850.81,274.38L851.49,274.53L852.18,274.69L852.86,274.84L853.55,274.99L854.23,275.14L854.91,275.29L855.60,275.44L856.28,275.58L856.96,275.73L857.65,275.87L858.33,276.01L859.02,276.15L859.70,276.29L860.38,276.42L861.07,276.56L861.75,276.69L862.44,276.82L863.12,276.95L863.80,277.08L864.49,277.21L865.17,277.34L865.86,277.46L866.54,277.58L867.22,277.71L867.91,277.83L868.59,277.95L869.28,278.06L869.96,278.18L870.64,278.29L871.33,278.41L872.01,278.52L872.69,278.63L873.38,278.74L874.06,278.85L874.75,278.96L875.43,279.06L876.11,279.17L876.80,279.27L877.48,279.37L878.17,279.47L878.85,279.57L879.53,279.67L880.22,279.77L880.90,279.86L881.59,279.96L882.27,280.05L882.95,280.14L883.64,280.23L884.32,280.32L885.00,280.41L885.69,280.50L886.37,280.59L887.06,280.67L887.74,280.76L888.42,280.84L889.11,280.92L889.79,281.00L890.48,281.08L891.16,281.16L891.84,281.24L892.53,281.32L893.21,281.39L893.90,281.47L894.58,281.54L895.26,281.61L895.95,281.69L896.63,281.76L897.32,281.83L898.00,281.90L898.68,281.96L899.37,282.03L900.05,282.10L900.73,282.16L901.42,282.23L902.10,282.29L902.79,282.35L903.47,282.42L904.15,282.48L904.84,282.54L905.52,282.60L906.21,282.65L906.89,282.71L907.57,282.77L908.26,282.82L908.94,282.88L909.63,282.93L910.31,282.99L910.99,283.04L911.68,283.09L912.36,283.14L913.04,283.19L913.73,283.24L914.41,283.29L915.10,283.34L915.78,283.39L916.46,283.44L917.15,283.48L917.83,283.53L918.52,283.57L919.20,283.62L919.88,283.66L920.57,283.70L921.25,283.74L921.94,283.79L922.62,283.83L923.30,283.87L923.99,283.91L924.67,283.95L925.35,283.98L926.04,284.02L926.72,284.06L927.41,284.10L928.09,284.13L928.77,284.17L929.46,284.20L930.14,284.24L930.83,284.27L931.51,284.30L932.19,284.34L932.88,284.37L933.56,284.40L934.25,284.43L934.93,284.46L935.61,284.49L936.30,284.52L936.98,284.55L937.67,284.58L938.35,284.61L939.03,284.63L939.72,284.66L940.40,284.69L941.08,284.71L941.77,284.74L942.45,284.76L943.14,284.79L943.82,284.81L944.50,284.84L945.19,284.86L945.87,284.88L946.56,284.91L947.24,284.93L947.92,284.95L948.61,284.97L949.29,284.99L949.98,285.01L950.66,285.03L951.34,285.05L952.03,285.07L952.71,285.09L953.39,285.11L954.08,285.13L954.76,285.15L955.45,285.16L956.13,285.18L956.81,285.20L957.50,285.22L958.18,285.23L958.87,285.25L959.55,285.26L960.23,285.28L960.92,285.29L961.60,285.31L962.29,285.32L962.97,285.34L963.65,285.35L964.34,285.36L965.02,285.38L965.71,285.39L966.39,285.40L967.07,285.41L967.76,285.43L968.44,285.44L969.12,285.45L969.81,285.46L970.49,285.47L971.18,285.48L971.86,285.49L972.54,285.50L973.23,285.51L973.91,285.52L974.60,285.53L975.28,285.54L975.96,285.55L976.65,285.56L977.33,285.57L978.02,285.57L978.70,285.58L979.38,285.59L980.07,285.60L980.75,285.60L981.43,285.61L982.12,285.62L982.80,285.62L983.49,285.63L984.17,285.64L984.85,285.64L985.54,285.65L986.22,285.65L986.91,285.66L987.59,285.66L988.27,285.67L988.96,285.67L989.64,285.68L990.33,285.68L991.01,285.69L991.69,285.69L992.38,285.69L993.06,285.70L993.74,285.70L994.43,285.70L995.11,285.71L995.80,285.71L996.48,285.71L997.16,285.71L997.85,285.71L998.53,285.72L999.22,285.72L999.90,285.72L1000.58,285.72L1001.27,285.72L1001.95,285.72L1002.64,285.72L1003.32,285.73L1004.00,285.73L1004.69,285.73L1005.37,285.73L1006.06,285.73L1006.74,285.73L1007.42,285.73L1008.11,285.73L1008.79,285.72L1009.47,285.72L1010.16,285.72L1010.84,285.72L1011.53,285.72L1012.21,285.72L1012.89,285.72L1013.58,285.72L1014.26,285.71L1014.95,285.71L1015.63,285.71L1016.31,285.71L1017.00,285.71L1017.68,285.70L1018.37,285.70L1019.05,285.70L1019.73,285.69L1020.42,285.69L1021.10,285.69L1021.78,285.68L1022.47,285.68L1023.15,285.68L1023.84,285.67L1024.52,285.67L1025.20,285.66L1025.89,285.66L1026.57,285.66L1027.26,285.65L1027.94,285.65L1028.62,285.64L1029.31,285.63L1029.99,285.63L1030.68,285.62L1031.36,285.61L1032.04,285.60L1032.73,285.60L1033.41,285.59L1034.10,285.58L1034.78,285.58L1035.46,285.58L1036.15,285.57L1036.83,285.57L1037.51,285.57L1038.20,285.57L1038.88,285.57L1039.57,285.57L1040.25,285.55L1040.93,285.54L1041.62,285.52L1042.30,285.49L1042.99,285.45L1043.67,285.42L1044.35,285.39L1045.04,285.36L1045.72,285.34L1046.41,285.34L1047.09,285.36L1047.77,285.40L1048.46,285.47L1049.14,285.56L1049.82,285.67L1050.51,285.80L1051.19,285.93L1051.88,286.05L1052.56,286.18L1053.24,286.29L1053.93,286.38L1054.61,286.45L1055.30,286.49L1055.98,286.52L1056.66,286.52L1057.35,286.51L1058.03,286.49L1058.72,286.47L1059.40,286.44L1060.08,286.42L1060.77,286.40L1061.45,286.39L1062.13,286.38L1062.82,286.38L1063.50,286.39L1064.19,286.39L1064.87,286.40L1065.55,286.40L1066.24,286.41L1066.92,286.41L1067.61,286.42L1068.29,286.42L1068.97,286.42L1069.66,286.42L1070.34,286.42L1071.03,286.42L1071.71,286.41L1072.39,286.41L1073.08,286.41L1073.76,286.41L1074.45,286.41L1075.13,286.41L1075.81,286.41L1076.50,286.41L1077.18,286.41L1077.86,286.41L1078.55,286.41L1079.23,286.41L1079.92,286.41L1080.60,286.41L1081.28,286.41L1081.97,286.41L1082.65,286.41L1083.34,286.41L1084.02,286.41L1084.70,286.41L1085.39,286.41L1086.07,286.41L1086.76,286.41L1087.44,286.41L1088.12,286.41L1088.81,286.41L1089.49,286.41L1090.17,286.41L1090.86,286.41L1091.54,286.41L1092.23,286.41L1092.91,286.41L1093.59,286.41L1094.28,286.41L1094.96,286.41L1095.65,286.41" stroke="#c04000" stroke-width="2.7" fill="none" stroke-linejoin="round"/><path d="M319.55,20.00L319.55,686.20L1100.00,-15.62" stroke="#000" stroke-width="3.0" fill="none" stroke-linejoin="miter"/></g>
<rect x="180" y="27" width="916" height="686" fill="none" stroke="#000" stroke-width="2" stroke-linejoin="round"/>
<text x="820.90" y="104.60" font-size="25.0" text-anchor="start" fill="#000" color="#000" word-spacing="-0.55">V(x) = e F x</text>
<text x="637.50" y="790.00" font-size="25.0" text-anchor="middle" fill="#000" color="#000" >distance [nm]</text>
<text transform="translate(95.6,370.0) rotate(-90)" font-size="25.0" text-anchor="middle">conduction band energy [eV]</text>
<rect x="1183.9" y="26.8" width="135.7" height="278.4" fill="none" stroke="#000" stroke-width="1.5" stroke-linejoin="round"/><line x1="1195.9" y1="59.80" x2="1258.4" y2="59.80" stroke="#ff0000" stroke-width="1.25"/><text transform="translate(1270.60,60.74) scale(1,1.08)" y="7.56" font-size="21.6" text-anchor="start" fill="#000" color="#000" >ev1</text><line x1="1195.9" y1="86.49" x2="1258.4" y2="86.49" stroke="#0080ff" stroke-width="1.25"/><text transform="translate(1270.60,87.43) scale(1,1.08)" y="7.56" font-size="21.6" text-anchor="start" fill="#000" color="#000" >ev2</text><line x1="1195.9" y1="113.18" x2="1258.4" y2="113.18" stroke="#00c000" stroke-width="1.25"/><text transform="translate(1270.60,114.12) scale(1,1.08)" y="7.56" font-size="21.6" text-anchor="start" fill="#000" color="#000" >ev3</text><line x1="1195.9" y1="139.87" x2="1258.4" y2="139.87" stroke="#c04000" stroke-width="1.25"/><text transform="translate(1270.60,140.81) scale(1,1.08)" y="7.56" font-size="21.6" text-anchor="start" fill="#000" color="#000" >ev4</text><line x1="1195.9" y1="166.56" x2="1258.4" y2="166.56" stroke="#ff0000" stroke-width="2.7"/><text transform="translate(1270.60,167.50) scale(1,1.08)" y="7.56" font-size="21.6" text-anchor="start" fill="#000" color="#000" >ef1</text><line x1="1195.9" y1="193.25" x2="1258.4" y2="193.25" stroke="#0080ff" stroke-width="2.7"/><text transform="translate(1270.60,194.19) scale(1,1.08)" y="7.56" font-size="21.6" text-anchor="start" fill="#000" color="#000" >ef2</text><line x1="1195.9" y1="219.94" x2="1258.4" y2="219.94" stroke="#00c000" stroke-width="2.7"/><text transform="translate(1270.60,220.88) scale(1,1.08)" y="7.56" font-size="21.6" text-anchor="start" fill="#000" color="#000" >ef3</text><line x1="1195.9" y1="246.63" x2="1258.4" y2="246.63" stroke="#c04000" stroke-width="2.7"/><text transform="translate(1270.60,247.57) scale(1,1.08)" y="7.56" font-size="21.6" text-anchor="start" fill="#000" color="#000" >ef4</text><line x1="1195.9" y1="273.32" x2="1258.4" y2="273.32" stroke="#000" stroke-width="2.7"/><text transform="translate(1270.60,274.26) scale(1,1.08)" y="7.56" font-size="21.6" text-anchor="start" fill="#000" color="#000" >cb</text>
</svg></body></html>
